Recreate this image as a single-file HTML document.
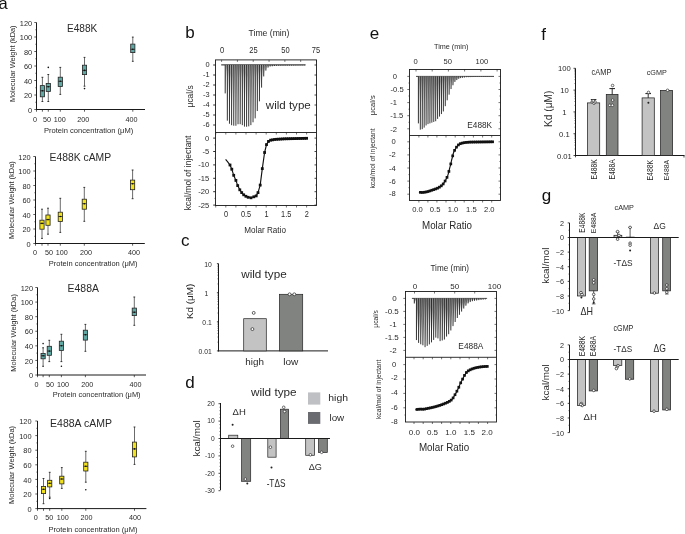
<!DOCTYPE html>
<html><head><meta charset="utf-8"><style>
html,body{margin:0;padding:0;background:#fff;overflow:hidden;}
svg{display:block;font-family:"Liberation Sans",sans-serif;will-change:transform;}
</style></head><body>
<svg width="685" height="534" viewBox="0 0 685 534">
<rect x="0" y="0" width="685" height="534" fill="#fff"/>
<text x="-1.6" y="9" font-size="16.5" text-anchor="start" fill="#111">a</text>
<text x="185.2" y="38" font-size="17" text-anchor="start" fill="#111">b</text>
<text x="181" y="246" font-size="17" text-anchor="start" fill="#111">c</text>
<text x="185.2" y="387.6" font-size="17" text-anchor="start" fill="#111">d</text>
<text x="369.8" y="38.5" font-size="17" text-anchor="start" fill="#111">e</text>
<text x="541.3" y="39.6" font-size="17" text-anchor="start" fill="#111">f</text>
<text x="541.8" y="201.3" font-size="17" text-anchor="start" fill="#111">g</text>
<line x1="36.5" y1="22.5" x2="36.5" y2="110" stroke="#1a1a1a" stroke-width="1.0"/>
<line x1="36" y1="109.5" x2="145" y2="109.5" stroke="#1a1a1a" stroke-width="1.0"/>
<line x1="34.3" y1="109.5" x2="36.5" y2="109.5" stroke="#1a1a1a" stroke-width="0.7"/>
<text x="32.2" y="112.65" font-size="7.4" text-anchor="end" fill="#2a2a2a">0</text>
<line x1="34.3" y1="95" x2="36.5" y2="95" stroke="#1a1a1a" stroke-width="0.7"/>
<text x="32.2" y="98.15" font-size="7.4" text-anchor="end" fill="#2a2a2a">20</text>
<line x1="34.3" y1="80.5" x2="36.5" y2="80.5" stroke="#1a1a1a" stroke-width="0.7"/>
<text x="32.2" y="83.65" font-size="7.4" text-anchor="end" fill="#2a2a2a">40</text>
<line x1="34.3" y1="66" x2="36.5" y2="66" stroke="#1a1a1a" stroke-width="0.7"/>
<text x="32.2" y="69.15" font-size="7.4" text-anchor="end" fill="#2a2a2a">60</text>
<line x1="34.3" y1="51.5" x2="36.5" y2="51.5" stroke="#1a1a1a" stroke-width="0.7"/>
<text x="32.2" y="54.65" font-size="7.4" text-anchor="end" fill="#2a2a2a">80</text>
<line x1="34.3" y1="37" x2="36.5" y2="37" stroke="#1a1a1a" stroke-width="0.7"/>
<text x="32.2" y="40.15" font-size="7.4" text-anchor="end" fill="#2a2a2a">100</text>
<line x1="34.3" y1="22.5" x2="36.5" y2="22.5" stroke="#1a1a1a" stroke-width="0.7"/>
<text x="32.2" y="25.65" font-size="7.4" text-anchor="end" fill="#2a2a2a">120</text>
<line x1="35.2" y1="102.25" x2="36.5" y2="102.25" stroke="#1a1a1a" stroke-width="0.5"/>
<line x1="35.2" y1="87.75" x2="36.5" y2="87.75" stroke="#1a1a1a" stroke-width="0.5"/>
<line x1="35.2" y1="73.25" x2="36.5" y2="73.25" stroke="#1a1a1a" stroke-width="0.5"/>
<line x1="35.2" y1="58.75" x2="36.5" y2="58.75" stroke="#1a1a1a" stroke-width="0.5"/>
<line x1="35.2" y1="44.25" x2="36.5" y2="44.25" stroke="#1a1a1a" stroke-width="0.5"/>
<line x1="35.2" y1="29.75" x2="36.5" y2="29.75" stroke="#1a1a1a" stroke-width="0.5"/>
<line x1="36.5" y1="109.5" x2="36.5" y2="111.7" stroke="#1a1a1a" stroke-width="0.7"/>
<line x1="42.4" y1="109.5" x2="42.4" y2="111.7" stroke="#1a1a1a" stroke-width="0.7"/>
<line x1="48.3" y1="109.5" x2="48.3" y2="111.7" stroke="#1a1a1a" stroke-width="0.7"/>
<line x1="60.3" y1="109.5" x2="60.3" y2="111.7" stroke="#1a1a1a" stroke-width="0.7"/>
<line x1="84.5" y1="109.5" x2="84.5" y2="111.7" stroke="#1a1a1a" stroke-width="0.7"/>
<line x1="132.8" y1="109.5" x2="132.8" y2="111.7" stroke="#1a1a1a" stroke-width="0.7"/>
<text x="35" y="122.08" font-size="7.2" text-anchor="middle" fill="#2a2a2a">0</text>
<text x="46.9" y="122.08" font-size="7.2" text-anchor="middle" fill="#2a2a2a">50</text>
<text x="59.8" y="122.08" font-size="7.2" text-anchor="middle" fill="#2a2a2a">100</text>
<text x="83.2" y="122.08" font-size="7.2" text-anchor="middle" fill="#2a2a2a">200</text>
<text x="131.6" y="122.08" font-size="7.2" text-anchor="middle" fill="#2a2a2a">400</text>
<text x="43.99" y="133.4" font-size="7.83" text-anchor="start" fill="#2a2a2a" textLength="89.29" lengthAdjust="spacingAndGlyphs">Protein concentration (μM)</text>
<text x="15" y="102.09" font-size="7.45" text-anchor="start" fill="#2a2a2a" transform="rotate(-90 15 102.09)" textLength="76.66" lengthAdjust="spacingAndGlyphs">Molecular Weight (kDa)</text>
<text x="66.99" y="31.89" font-size="11.27" text-anchor="start" fill="#2a2a2a" textLength="30.34" lengthAdjust="spacingAndGlyphs">E488K</text>
<line x1="42.4" y1="77.3" x2="42.4" y2="85.6" stroke="#505050" stroke-width="0.85"/>
<line x1="42.4" y1="96.8" x2="42.4" y2="101.5" stroke="#505050" stroke-width="0.85"/>
<line x1="41.5" y1="77.3" x2="43.3" y2="77.3" stroke="#222" stroke-width="0.9"/>
<line x1="41.5" y1="101.5" x2="43.3" y2="101.5" stroke="#222" stroke-width="0.9"/>
<rect x="40.3" y="85.6" width="4.2" height="11.2" fill="#5fa8a3" stroke="#222" stroke-width="0.8"/>
<line x1="40.3" y1="90.8" x2="44.5" y2="90.8" stroke="#222" stroke-width="0.8"/>
<circle cx="42.4" cy="90.8" r="0.8" fill="#111" stroke="none" stroke-width="0"/>
<line x1="48.3" y1="74.5" x2="48.3" y2="83.5" stroke="#505050" stroke-width="0.85"/>
<line x1="48.3" y1="91.4" x2="48.3" y2="101.5" stroke="#505050" stroke-width="0.85"/>
<line x1="47.4" y1="74.5" x2="49.2" y2="74.5" stroke="#222" stroke-width="0.9"/>
<line x1="47.4" y1="101.5" x2="49.2" y2="101.5" stroke="#222" stroke-width="0.9"/>
<rect x="46.2" y="83.5" width="4.2" height="7.9" fill="#5fa8a3" stroke="#222" stroke-width="0.8"/>
<line x1="46.2" y1="86.7" x2="50.4" y2="86.7" stroke="#222" stroke-width="0.8"/>
<circle cx="48.3" cy="86.7" r="0.8" fill="#111" stroke="none" stroke-width="0"/>
<circle cx="48.3" cy="67.4" r="0.8" fill="#111" stroke="none" stroke-width="0"/>
<line x1="60.3" y1="67.4" x2="60.3" y2="77.2" stroke="#505050" stroke-width="0.85"/>
<line x1="60.3" y1="86.5" x2="60.3" y2="94.4" stroke="#505050" stroke-width="0.85"/>
<line x1="59.4" y1="67.4" x2="61.2" y2="67.4" stroke="#222" stroke-width="0.9"/>
<line x1="59.4" y1="94.4" x2="61.2" y2="94.4" stroke="#222" stroke-width="0.9"/>
<rect x="58.2" y="77.2" width="4.2" height="9.3" fill="#5fa8a3" stroke="#222" stroke-width="0.8"/>
<line x1="58.2" y1="81.3" x2="62.4" y2="81.3" stroke="#222" stroke-width="0.8"/>
<circle cx="60.3" cy="81.3" r="0.8" fill="#111" stroke="none" stroke-width="0"/>
<line x1="84.5" y1="57.4" x2="84.5" y2="65.2" stroke="#505050" stroke-width="0.85"/>
<line x1="84.5" y1="74.6" x2="84.5" y2="86.2" stroke="#505050" stroke-width="0.85"/>
<line x1="83.6" y1="57.4" x2="85.4" y2="57.4" stroke="#222" stroke-width="0.9"/>
<line x1="83.6" y1="86.2" x2="85.4" y2="86.2" stroke="#222" stroke-width="0.9"/>
<rect x="82.4" y="65.2" width="4.2" height="9.4" fill="#5fa8a3" stroke="#222" stroke-width="0.8"/>
<line x1="82.4" y1="70.4" x2="86.6" y2="70.4" stroke="#222" stroke-width="0.8"/>
<circle cx="84.5" cy="70.4" r="0.8" fill="#111" stroke="none" stroke-width="0"/>
<circle cx="84.5" cy="88.6" r="0.8" fill="#111" stroke="none" stroke-width="0"/>
<line x1="132.8" y1="37.1" x2="132.8" y2="44.1" stroke="#505050" stroke-width="0.85"/>
<line x1="132.8" y1="52.6" x2="132.8" y2="61.3" stroke="#505050" stroke-width="0.85"/>
<line x1="131.9" y1="37.1" x2="133.7" y2="37.1" stroke="#222" stroke-width="0.9"/>
<line x1="131.9" y1="61.3" x2="133.7" y2="61.3" stroke="#222" stroke-width="0.9"/>
<rect x="130.7" y="44.1" width="4.2" height="8.5" fill="#5fa8a3" stroke="#222" stroke-width="0.8"/>
<line x1="130.7" y1="49.3" x2="134.9" y2="49.3" stroke="#222" stroke-width="0.8"/>
<circle cx="132.8" cy="49.3" r="0.8" fill="#111" stroke="none" stroke-width="0"/>
<line x1="35.5" y1="156.5" x2="35.5" y2="244" stroke="#1a1a1a" stroke-width="1.0"/>
<line x1="35" y1="243.5" x2="144.8" y2="243.5" stroke="#1a1a1a" stroke-width="1.0"/>
<line x1="33.3" y1="243.5" x2="35.5" y2="243.5" stroke="#1a1a1a" stroke-width="0.7"/>
<text x="30.7" y="246.65" font-size="7.4" text-anchor="end" fill="#2a2a2a">0</text>
<line x1="33.3" y1="229" x2="35.5" y2="229" stroke="#1a1a1a" stroke-width="0.7"/>
<text x="30.7" y="232.15" font-size="7.4" text-anchor="end" fill="#2a2a2a">20</text>
<line x1="33.3" y1="214.5" x2="35.5" y2="214.5" stroke="#1a1a1a" stroke-width="0.7"/>
<text x="30.7" y="217.65" font-size="7.4" text-anchor="end" fill="#2a2a2a">40</text>
<line x1="33.3" y1="200" x2="35.5" y2="200" stroke="#1a1a1a" stroke-width="0.7"/>
<text x="30.7" y="203.15" font-size="7.4" text-anchor="end" fill="#2a2a2a">60</text>
<line x1="33.3" y1="185.5" x2="35.5" y2="185.5" stroke="#1a1a1a" stroke-width="0.7"/>
<text x="30.7" y="188.65" font-size="7.4" text-anchor="end" fill="#2a2a2a">80</text>
<line x1="33.3" y1="171" x2="35.5" y2="171" stroke="#1a1a1a" stroke-width="0.7"/>
<text x="30.7" y="174.15" font-size="7.4" text-anchor="end" fill="#2a2a2a">100</text>
<line x1="33.3" y1="156.5" x2="35.5" y2="156.5" stroke="#1a1a1a" stroke-width="0.7"/>
<text x="30.7" y="159.65" font-size="7.4" text-anchor="end" fill="#2a2a2a">120</text>
<line x1="34.2" y1="236.25" x2="35.5" y2="236.25" stroke="#1a1a1a" stroke-width="0.5"/>
<line x1="34.2" y1="221.75" x2="35.5" y2="221.75" stroke="#1a1a1a" stroke-width="0.5"/>
<line x1="34.2" y1="207.25" x2="35.5" y2="207.25" stroke="#1a1a1a" stroke-width="0.5"/>
<line x1="34.2" y1="192.75" x2="35.5" y2="192.75" stroke="#1a1a1a" stroke-width="0.5"/>
<line x1="34.2" y1="178.25" x2="35.5" y2="178.25" stroke="#1a1a1a" stroke-width="0.5"/>
<line x1="34.2" y1="163.75" x2="35.5" y2="163.75" stroke="#1a1a1a" stroke-width="0.5"/>
<line x1="35.5" y1="243.5" x2="35.5" y2="245.7" stroke="#1a1a1a" stroke-width="0.7"/>
<line x1="42" y1="243.5" x2="42" y2="245.7" stroke="#1a1a1a" stroke-width="0.7"/>
<line x1="48" y1="243.5" x2="48" y2="245.7" stroke="#1a1a1a" stroke-width="0.7"/>
<line x1="60.3" y1="243.5" x2="60.3" y2="245.7" stroke="#1a1a1a" stroke-width="0.7"/>
<line x1="84.3" y1="243.5" x2="84.3" y2="245.7" stroke="#1a1a1a" stroke-width="0.7"/>
<line x1="132.6" y1="243.5" x2="132.6" y2="245.7" stroke="#1a1a1a" stroke-width="0.7"/>
<text x="35" y="254.78" font-size="7.2" text-anchor="middle" fill="#2a2a2a">0</text>
<text x="49" y="254.78" font-size="7.2" text-anchor="middle" fill="#2a2a2a">50</text>
<text x="61.7" y="254.78" font-size="7.2" text-anchor="middle" fill="#2a2a2a">100</text>
<text x="86" y="254.78" font-size="7.2" text-anchor="middle" fill="#2a2a2a">200</text>
<text x="134" y="254.78" font-size="7.2" text-anchor="middle" fill="#2a2a2a">400</text>
<text x="48.8" y="265.6" font-size="7.83" text-anchor="start" fill="#2a2a2a" textLength="88.68" lengthAdjust="spacingAndGlyphs">Protein concentration (μM)</text>
<text x="14.05" y="238.9" font-size="7.45" text-anchor="start" fill="#2a2a2a" transform="rotate(-90 14.05 238.9)" textLength="77.68" lengthAdjust="spacingAndGlyphs">Molecular Weight (kDa)</text>
<text x="49.47" y="160.68" font-size="11.55" text-anchor="start" fill="#2a2a2a" textLength="61.67" lengthAdjust="spacingAndGlyphs">E488K cAMP</text>
<line x1="42" y1="209.2" x2="42" y2="220.2" stroke="#505050" stroke-width="0.85"/>
<line x1="42" y1="229.2" x2="42" y2="238.4" stroke="#505050" stroke-width="0.85"/>
<line x1="41.1" y1="209.2" x2="42.9" y2="209.2" stroke="#222" stroke-width="0.9"/>
<line x1="41.1" y1="238.4" x2="42.9" y2="238.4" stroke="#222" stroke-width="0.9"/>
<rect x="39.9" y="220.2" width="4.2" height="9" fill="#f2e21c" stroke="#222" stroke-width="0.8"/>
<line x1="39.9" y1="223.4" x2="44.1" y2="223.4" stroke="#222" stroke-width="0.8"/>
<circle cx="42" cy="223.4" r="0.8" fill="#111" stroke="none" stroke-width="0"/>
<line x1="48" y1="208.2" x2="48" y2="215" stroke="#505050" stroke-width="0.85"/>
<line x1="48" y1="225.3" x2="48" y2="234.2" stroke="#505050" stroke-width="0.85"/>
<line x1="47.1" y1="208.2" x2="48.9" y2="208.2" stroke="#222" stroke-width="0.9"/>
<line x1="47.1" y1="234.2" x2="48.9" y2="234.2" stroke="#222" stroke-width="0.9"/>
<rect x="45.9" y="215" width="4.2" height="10.3" fill="#f2e21c" stroke="#222" stroke-width="0.8"/>
<line x1="45.9" y1="219.6" x2="50.1" y2="219.6" stroke="#222" stroke-width="0.8"/>
<circle cx="48" cy="219.6" r="0.8" fill="#111" stroke="none" stroke-width="0"/>
<line x1="60.3" y1="198.3" x2="60.3" y2="212.2" stroke="#505050" stroke-width="0.85"/>
<line x1="60.3" y1="221.5" x2="60.3" y2="232.4" stroke="#505050" stroke-width="0.85"/>
<line x1="59.4" y1="198.3" x2="61.2" y2="198.3" stroke="#222" stroke-width="0.9"/>
<line x1="59.4" y1="232.4" x2="61.2" y2="232.4" stroke="#222" stroke-width="0.9"/>
<rect x="58.2" y="212.2" width="4.2" height="9.3" fill="#f2e21c" stroke="#222" stroke-width="0.8"/>
<line x1="58.2" y1="216.5" x2="62.4" y2="216.5" stroke="#222" stroke-width="0.8"/>
<circle cx="60.3" cy="216.5" r="0.8" fill="#111" stroke="none" stroke-width="0"/>
<line x1="84.3" y1="187.4" x2="84.3" y2="199.2" stroke="#505050" stroke-width="0.85"/>
<line x1="84.3" y1="209.2" x2="84.3" y2="221.3" stroke="#505050" stroke-width="0.85"/>
<line x1="83.4" y1="187.4" x2="85.2" y2="187.4" stroke="#222" stroke-width="0.9"/>
<line x1="83.4" y1="221.3" x2="85.2" y2="221.3" stroke="#222" stroke-width="0.9"/>
<rect x="82.2" y="199.2" width="4.2" height="10" fill="#f2e21c" stroke="#222" stroke-width="0.8"/>
<line x1="82.2" y1="203.7" x2="86.4" y2="203.7" stroke="#222" stroke-width="0.8"/>
<circle cx="84.3" cy="203.7" r="0.8" fill="#111" stroke="none" stroke-width="0"/>
<line x1="132.6" y1="170" x2="132.6" y2="180.1" stroke="#505050" stroke-width="0.85"/>
<line x1="132.6" y1="189.7" x2="132.6" y2="198.7" stroke="#505050" stroke-width="0.85"/>
<line x1="131.7" y1="170" x2="133.5" y2="170" stroke="#222" stroke-width="0.9"/>
<line x1="131.7" y1="198.7" x2="133.5" y2="198.7" stroke="#222" stroke-width="0.9"/>
<rect x="130.5" y="180.1" width="4.2" height="9.6" fill="#f2e21c" stroke="#222" stroke-width="0.8"/>
<line x1="130.5" y1="183.7" x2="134.7" y2="183.7" stroke="#222" stroke-width="0.8"/>
<circle cx="132.6" cy="183.7" r="0.8" fill="#111" stroke="none" stroke-width="0"/>
<line x1="37.5" y1="287.5" x2="37.5" y2="375.5" stroke="#1a1a1a" stroke-width="1.0"/>
<line x1="37" y1="375" x2="146" y2="375" stroke="#1a1a1a" stroke-width="1.0"/>
<line x1="35.3" y1="375" x2="37.5" y2="375" stroke="#1a1a1a" stroke-width="0.7"/>
<text x="33" y="378.15" font-size="7.4" text-anchor="end" fill="#2a2a2a">0</text>
<line x1="35.3" y1="360.42" x2="37.5" y2="360.42" stroke="#1a1a1a" stroke-width="0.7"/>
<text x="33" y="363.57" font-size="7.4" text-anchor="end" fill="#2a2a2a">20</text>
<line x1="35.3" y1="345.83" x2="37.5" y2="345.83" stroke="#1a1a1a" stroke-width="0.7"/>
<text x="33" y="348.98" font-size="7.4" text-anchor="end" fill="#2a2a2a">40</text>
<line x1="35.3" y1="331.25" x2="37.5" y2="331.25" stroke="#1a1a1a" stroke-width="0.7"/>
<text x="33" y="334.4" font-size="7.4" text-anchor="end" fill="#2a2a2a">60</text>
<line x1="35.3" y1="316.67" x2="37.5" y2="316.67" stroke="#1a1a1a" stroke-width="0.7"/>
<text x="33" y="319.82" font-size="7.4" text-anchor="end" fill="#2a2a2a">80</text>
<line x1="35.3" y1="302.08" x2="37.5" y2="302.08" stroke="#1a1a1a" stroke-width="0.7"/>
<text x="33" y="305.23" font-size="7.4" text-anchor="end" fill="#2a2a2a">100</text>
<line x1="35.3" y1="287.5" x2="37.5" y2="287.5" stroke="#1a1a1a" stroke-width="0.7"/>
<text x="33" y="290.65" font-size="7.4" text-anchor="end" fill="#2a2a2a">120</text>
<line x1="36.2" y1="367.71" x2="37.5" y2="367.71" stroke="#1a1a1a" stroke-width="0.5"/>
<line x1="36.2" y1="353.12" x2="37.5" y2="353.12" stroke="#1a1a1a" stroke-width="0.5"/>
<line x1="36.2" y1="338.54" x2="37.5" y2="338.54" stroke="#1a1a1a" stroke-width="0.5"/>
<line x1="36.2" y1="323.96" x2="37.5" y2="323.96" stroke="#1a1a1a" stroke-width="0.5"/>
<line x1="36.2" y1="309.38" x2="37.5" y2="309.38" stroke="#1a1a1a" stroke-width="0.5"/>
<line x1="36.2" y1="294.79" x2="37.5" y2="294.79" stroke="#1a1a1a" stroke-width="0.5"/>
<line x1="37.5" y1="375" x2="37.5" y2="377.2" stroke="#1a1a1a" stroke-width="0.7"/>
<line x1="43.1" y1="375" x2="43.1" y2="377.2" stroke="#1a1a1a" stroke-width="0.7"/>
<line x1="49.3" y1="375" x2="49.3" y2="377.2" stroke="#1a1a1a" stroke-width="0.7"/>
<line x1="61.4" y1="375" x2="61.4" y2="377.2" stroke="#1a1a1a" stroke-width="0.7"/>
<line x1="85.4" y1="375" x2="85.4" y2="377.2" stroke="#1a1a1a" stroke-width="0.7"/>
<line x1="134.3" y1="375" x2="134.3" y2="377.2" stroke="#1a1a1a" stroke-width="0.7"/>
<text x="36.5" y="386.88" font-size="7.2" text-anchor="middle" fill="#2a2a2a">0</text>
<text x="49.9" y="386.88" font-size="7.2" text-anchor="middle" fill="#2a2a2a">50</text>
<text x="63" y="386.88" font-size="7.2" text-anchor="middle" fill="#2a2a2a">100</text>
<text x="87.2" y="386.88" font-size="7.2" text-anchor="middle" fill="#2a2a2a">200</text>
<text x="135.6" y="386.88" font-size="7.2" text-anchor="middle" fill="#2a2a2a">400</text>
<text x="52.81" y="396.8" font-size="7.83" text-anchor="start" fill="#2a2a2a" textLength="87.77" lengthAdjust="spacingAndGlyphs">Protein concentration (μM)</text>
<text x="15.7" y="371.7" font-size="7.45" text-anchor="start" fill="#2a2a2a" transform="rotate(-90 15.7 371.7)" textLength="77.58" lengthAdjust="spacingAndGlyphs">Molecular Weight (kDa)</text>
<text x="67.56" y="291.88" font-size="11.83" text-anchor="start" fill="#2a2a2a" textLength="31.36" lengthAdjust="spacingAndGlyphs">E488A</text>
<line x1="43.1" y1="347.8" x2="43.1" y2="353.4" stroke="#505050" stroke-width="0.85"/>
<line x1="43.1" y1="358.8" x2="43.1" y2="366.3" stroke="#505050" stroke-width="0.85"/>
<line x1="42.2" y1="347.8" x2="44" y2="347.8" stroke="#222" stroke-width="0.9"/>
<line x1="42.2" y1="366.3" x2="44" y2="366.3" stroke="#222" stroke-width="0.9"/>
<rect x="41" y="353.4" width="4.2" height="5.4" fill="#5fa8a3" stroke="#222" stroke-width="0.8"/>
<line x1="41" y1="355.8" x2="45.2" y2="355.8" stroke="#222" stroke-width="0.8"/>
<circle cx="43.1" cy="355.8" r="0.8" fill="#111" stroke="none" stroke-width="0"/>
<circle cx="43.1" cy="343.6" r="0.8" fill="#111" stroke="none" stroke-width="0"/>
<line x1="49.3" y1="340.3" x2="49.3" y2="346.3" stroke="#505050" stroke-width="0.85"/>
<line x1="49.3" y1="355.3" x2="49.3" y2="361.6" stroke="#505050" stroke-width="0.85"/>
<line x1="48.4" y1="340.3" x2="50.2" y2="340.3" stroke="#222" stroke-width="0.9"/>
<line x1="48.4" y1="361.6" x2="50.2" y2="361.6" stroke="#222" stroke-width="0.9"/>
<rect x="47.2" y="346.3" width="4.2" height="9" fill="#5fa8a3" stroke="#222" stroke-width="0.8"/>
<line x1="47.2" y1="351.1" x2="51.4" y2="351.1" stroke="#222" stroke-width="0.8"/>
<circle cx="49.3" cy="351.1" r="0.8" fill="#111" stroke="none" stroke-width="0"/>
<line x1="61.4" y1="334.3" x2="61.4" y2="341.2" stroke="#505050" stroke-width="0.85"/>
<line x1="61.4" y1="350.4" x2="61.4" y2="361.6" stroke="#505050" stroke-width="0.85"/>
<line x1="60.5" y1="334.3" x2="62.3" y2="334.3" stroke="#222" stroke-width="0.9"/>
<line x1="60.5" y1="361.6" x2="62.3" y2="361.6" stroke="#222" stroke-width="0.9"/>
<rect x="59.3" y="341.2" width="4.2" height="9.2" fill="#5fa8a3" stroke="#222" stroke-width="0.8"/>
<line x1="59.3" y1="345.7" x2="63.5" y2="345.7" stroke="#222" stroke-width="0.8"/>
<circle cx="61.4" cy="345.7" r="0.8" fill="#111" stroke="none" stroke-width="0"/>
<circle cx="61.4" cy="366.3" r="0.8" fill="#111" stroke="none" stroke-width="0"/>
<line x1="85.4" y1="324.4" x2="85.4" y2="330.2" stroke="#505050" stroke-width="0.85"/>
<line x1="85.4" y1="340.1" x2="85.4" y2="351.3" stroke="#505050" stroke-width="0.85"/>
<line x1="84.5" y1="324.4" x2="86.3" y2="324.4" stroke="#222" stroke-width="0.9"/>
<line x1="84.5" y1="351.3" x2="86.3" y2="351.3" stroke="#222" stroke-width="0.9"/>
<rect x="83.3" y="330.2" width="4.2" height="9.9" fill="#5fa8a3" stroke="#222" stroke-width="0.8"/>
<line x1="83.3" y1="334.7" x2="87.5" y2="334.7" stroke="#222" stroke-width="0.8"/>
<circle cx="85.4" cy="334.7" r="0.8" fill="#111" stroke="none" stroke-width="0"/>
<line x1="134.3" y1="297" x2="134.3" y2="308.1" stroke="#505050" stroke-width="0.85"/>
<line x1="134.3" y1="315.6" x2="134.3" y2="325.3" stroke="#505050" stroke-width="0.85"/>
<line x1="133.4" y1="297" x2="135.2" y2="297" stroke="#222" stroke-width="0.9"/>
<line x1="133.4" y1="325.3" x2="135.2" y2="325.3" stroke="#222" stroke-width="0.9"/>
<rect x="132.2" y="308.1" width="4.2" height="7.5" fill="#5fa8a3" stroke="#222" stroke-width="0.8"/>
<line x1="132.2" y1="312.2" x2="136.4" y2="312.2" stroke="#222" stroke-width="0.8"/>
<circle cx="134.3" cy="312.2" r="0.8" fill="#111" stroke="none" stroke-width="0"/>
<line x1="37.5" y1="421" x2="37.5" y2="509.1" stroke="#1a1a1a" stroke-width="1.0"/>
<line x1="37" y1="508.6" x2="146.4" y2="508.6" stroke="#1a1a1a" stroke-width="1.0"/>
<line x1="35.3" y1="508.6" x2="37.5" y2="508.6" stroke="#1a1a1a" stroke-width="0.7"/>
<text x="31.5" y="511.75" font-size="7.4" text-anchor="end" fill="#2a2a2a">0</text>
<line x1="35.3" y1="494" x2="37.5" y2="494" stroke="#1a1a1a" stroke-width="0.7"/>
<text x="31.5" y="497.15" font-size="7.4" text-anchor="end" fill="#2a2a2a">20</text>
<line x1="35.3" y1="479.4" x2="37.5" y2="479.4" stroke="#1a1a1a" stroke-width="0.7"/>
<text x="31.5" y="482.55" font-size="7.4" text-anchor="end" fill="#2a2a2a">40</text>
<line x1="35.3" y1="464.8" x2="37.5" y2="464.8" stroke="#1a1a1a" stroke-width="0.7"/>
<text x="31.5" y="467.95" font-size="7.4" text-anchor="end" fill="#2a2a2a">60</text>
<line x1="35.3" y1="450.2" x2="37.5" y2="450.2" stroke="#1a1a1a" stroke-width="0.7"/>
<text x="31.5" y="453.35" font-size="7.4" text-anchor="end" fill="#2a2a2a">80</text>
<line x1="35.3" y1="435.6" x2="37.5" y2="435.6" stroke="#1a1a1a" stroke-width="0.7"/>
<text x="31.5" y="438.75" font-size="7.4" text-anchor="end" fill="#2a2a2a">100</text>
<line x1="35.3" y1="421" x2="37.5" y2="421" stroke="#1a1a1a" stroke-width="0.7"/>
<text x="31.5" y="424.15" font-size="7.4" text-anchor="end" fill="#2a2a2a">120</text>
<line x1="36.2" y1="501.3" x2="37.5" y2="501.3" stroke="#1a1a1a" stroke-width="0.5"/>
<line x1="36.2" y1="486.7" x2="37.5" y2="486.7" stroke="#1a1a1a" stroke-width="0.5"/>
<line x1="36.2" y1="472.1" x2="37.5" y2="472.1" stroke="#1a1a1a" stroke-width="0.5"/>
<line x1="36.2" y1="457.5" x2="37.5" y2="457.5" stroke="#1a1a1a" stroke-width="0.5"/>
<line x1="36.2" y1="442.9" x2="37.5" y2="442.9" stroke="#1a1a1a" stroke-width="0.5"/>
<line x1="36.2" y1="428.3" x2="37.5" y2="428.3" stroke="#1a1a1a" stroke-width="0.5"/>
<line x1="37.5" y1="508.6" x2="37.5" y2="510.8" stroke="#1a1a1a" stroke-width="0.7"/>
<line x1="43.5" y1="508.6" x2="43.5" y2="510.8" stroke="#1a1a1a" stroke-width="0.7"/>
<line x1="49.7" y1="508.6" x2="49.7" y2="510.8" stroke="#1a1a1a" stroke-width="0.7"/>
<line x1="61.8" y1="508.6" x2="61.8" y2="510.8" stroke="#1a1a1a" stroke-width="0.7"/>
<line x1="85.8" y1="508.6" x2="85.8" y2="510.8" stroke="#1a1a1a" stroke-width="0.7"/>
<line x1="134.5" y1="508.6" x2="134.5" y2="510.8" stroke="#1a1a1a" stroke-width="0.7"/>
<text x="35.7" y="519.78" font-size="7.2" text-anchor="middle" fill="#2a2a2a">0</text>
<text x="49.3" y="519.78" font-size="7.2" text-anchor="middle" fill="#2a2a2a">50</text>
<text x="62.8" y="519.78" font-size="7.2" text-anchor="middle" fill="#2a2a2a">100</text>
<text x="86.4" y="519.78" font-size="7.2" text-anchor="middle" fill="#2a2a2a">200</text>
<text x="135.1" y="519.78" font-size="7.2" text-anchor="middle" fill="#2a2a2a">400</text>
<text x="48.4" y="532.3" font-size="7.83" text-anchor="start" fill="#2a2a2a" textLength="89.08" lengthAdjust="spacingAndGlyphs">Protein concentration (μM)</text>
<text x="14.45" y="503.9" font-size="7.45" text-anchor="start" fill="#2a2a2a" transform="rotate(-90 14.45 503.9)" textLength="77.98" lengthAdjust="spacingAndGlyphs">Molecular Weight (kDa)</text>
<text x="50.06" y="426.68" font-size="11.55" text-anchor="start" fill="#2a2a2a" textLength="61.89" lengthAdjust="spacingAndGlyphs">E488A cAMP</text>
<line x1="43.5" y1="478.5" x2="43.5" y2="486.5" stroke="#505050" stroke-width="0.85"/>
<line x1="43.5" y1="493.6" x2="43.5" y2="503.7" stroke="#505050" stroke-width="0.85"/>
<line x1="42.6" y1="478.5" x2="44.4" y2="478.5" stroke="#222" stroke-width="0.9"/>
<line x1="42.6" y1="503.7" x2="44.4" y2="503.7" stroke="#222" stroke-width="0.9"/>
<rect x="41.4" y="486.5" width="4.2" height="7.1" fill="#f2e21c" stroke="#222" stroke-width="0.8"/>
<line x1="41.4" y1="489.3" x2="45.6" y2="489.3" stroke="#222" stroke-width="0.8"/>
<circle cx="43.5" cy="489.3" r="0.8" fill="#111" stroke="none" stroke-width="0"/>
<line x1="49.7" y1="472.3" x2="49.7" y2="480.3" stroke="#505050" stroke-width="0.85"/>
<line x1="49.7" y1="486.9" x2="49.7" y2="497.2" stroke="#505050" stroke-width="0.85"/>
<line x1="48.8" y1="472.3" x2="50.6" y2="472.3" stroke="#222" stroke-width="0.9"/>
<line x1="48.8" y1="497.2" x2="50.6" y2="497.2" stroke="#222" stroke-width="0.9"/>
<rect x="47.6" y="480.3" width="4.2" height="6.6" fill="#f2e21c" stroke="#222" stroke-width="0.8"/>
<line x1="47.6" y1="483.3" x2="51.8" y2="483.3" stroke="#222" stroke-width="0.8"/>
<circle cx="49.7" cy="483.3" r="0.8" fill="#111" stroke="none" stroke-width="0"/>
<circle cx="49.7" cy="498.4" r="0.8" fill="#111" stroke="none" stroke-width="0"/>
<line x1="61.8" y1="467.6" x2="61.8" y2="476.2" stroke="#505050" stroke-width="0.85"/>
<line x1="61.8" y1="483.9" x2="61.8" y2="488.4" stroke="#505050" stroke-width="0.85"/>
<line x1="60.9" y1="467.6" x2="62.7" y2="467.6" stroke="#222" stroke-width="0.9"/>
<line x1="60.9" y1="488.4" x2="62.7" y2="488.4" stroke="#222" stroke-width="0.9"/>
<rect x="59.7" y="476.2" width="4.2" height="7.7" fill="#f2e21c" stroke="#222" stroke-width="0.8"/>
<line x1="59.7" y1="479" x2="63.9" y2="479" stroke="#222" stroke-width="0.8"/>
<circle cx="61.8" cy="479" r="0.8" fill="#111" stroke="none" stroke-width="0"/>
<line x1="85.8" y1="451.3" x2="85.8" y2="462.2" stroke="#505050" stroke-width="0.85"/>
<line x1="85.8" y1="471" x2="85.8" y2="482.2" stroke="#505050" stroke-width="0.85"/>
<line x1="84.9" y1="451.3" x2="86.7" y2="451.3" stroke="#222" stroke-width="0.9"/>
<line x1="84.9" y1="482.2" x2="86.7" y2="482.2" stroke="#222" stroke-width="0.9"/>
<rect x="83.7" y="462.2" width="4.2" height="8.8" fill="#f2e21c" stroke="#222" stroke-width="0.8"/>
<line x1="83.7" y1="466.3" x2="87.9" y2="466.3" stroke="#222" stroke-width="0.8"/>
<circle cx="85.8" cy="466.3" r="0.8" fill="#111" stroke="none" stroke-width="0"/>
<circle cx="85.8" cy="489.7" r="0.8" fill="#111" stroke="none" stroke-width="0"/>
<line x1="134.5" y1="427" x2="134.5" y2="442.1" stroke="#505050" stroke-width="0.85"/>
<line x1="134.5" y1="456.9" x2="134.5" y2="464.4" stroke="#505050" stroke-width="0.85"/>
<line x1="133.6" y1="427" x2="135.4" y2="427" stroke="#222" stroke-width="0.9"/>
<line x1="133.6" y1="464.4" x2="135.4" y2="464.4" stroke="#222" stroke-width="0.9"/>
<rect x="132.4" y="442.1" width="4.2" height="14.8" fill="#f2e21c" stroke="#222" stroke-width="0.8"/>
<line x1="132.4" y1="448.9" x2="136.6" y2="448.9" stroke="#222" stroke-width="0.8"/>
<circle cx="134.5" cy="448.9" r="0.8" fill="#111" stroke="none" stroke-width="0"/>
<rect x="215.5" y="59.9" width="101" height="145.6" fill="none" stroke="#1a1a1a" stroke-width="0.9"/>
<line x1="215.5" y1="132.5" x2="316.5" y2="132.5" stroke="#1a1a1a" stroke-width="0.9"/>
<line x1="221.6" y1="59.9" x2="221.6" y2="61.9" stroke="#1a1a1a" stroke-width="0.6"/>
<line x1="237.42" y1="59.9" x2="237.42" y2="61.9" stroke="#1a1a1a" stroke-width="0.6"/>
<line x1="253.23" y1="59.9" x2="253.23" y2="61.9" stroke="#1a1a1a" stroke-width="0.6"/>
<line x1="269.05" y1="59.9" x2="269.05" y2="61.9" stroke="#1a1a1a" stroke-width="0.6"/>
<line x1="284.87" y1="59.9" x2="284.87" y2="61.9" stroke="#1a1a1a" stroke-width="0.6"/>
<line x1="300.68" y1="59.9" x2="300.68" y2="61.9" stroke="#1a1a1a" stroke-width="0.6"/>
<line x1="316.5" y1="59.9" x2="316.5" y2="61.9" stroke="#1a1a1a" stroke-width="0.6"/>
<text x="222" y="53.34" font-size="8.2" text-anchor="middle" fill="#2a2a2a" textLength="4.2" lengthAdjust="spacingAndGlyphs">0</text>
<text x="253.5" y="53.34" font-size="8.2" text-anchor="middle" fill="#2a2a2a" textLength="8.39" lengthAdjust="spacingAndGlyphs">25</text>
<text x="285.5" y="53.34" font-size="8.2" text-anchor="middle" fill="#2a2a2a" textLength="8.39" lengthAdjust="spacingAndGlyphs">50</text>
<text x="315.9" y="53.34" font-size="8.2" text-anchor="middle" fill="#2a2a2a" textLength="8.39" lengthAdjust="spacingAndGlyphs">75</text>
<text x="248.53" y="35.9" font-size="8.84" text-anchor="start" fill="#2a2a2a" textLength="40.94" lengthAdjust="spacingAndGlyphs">Time (min)</text>
<line x1="213.2" y1="65" x2="215.5" y2="65" stroke="#1a1a1a" stroke-width="0.9"/>
<line x1="314.5" y1="65" x2="316.5" y2="65" stroke="#1a1a1a" stroke-width="0.8"/>
<text x="209.6" y="67.05" font-size="7.4" text-anchor="end" fill="#2a2a2a">0</text>
<line x1="213.2" y1="75" x2="215.5" y2="75" stroke="#1a1a1a" stroke-width="0.9"/>
<line x1="314.5" y1="75" x2="316.5" y2="75" stroke="#1a1a1a" stroke-width="0.8"/>
<text x="209.6" y="77.05" font-size="7.4" text-anchor="end" fill="#2a2a2a">-1</text>
<line x1="213.2" y1="85" x2="215.5" y2="85" stroke="#1a1a1a" stroke-width="0.9"/>
<line x1="314.5" y1="85" x2="316.5" y2="85" stroke="#1a1a1a" stroke-width="0.8"/>
<text x="209.6" y="87.05" font-size="7.4" text-anchor="end" fill="#2a2a2a">-2</text>
<line x1="213.2" y1="95" x2="215.5" y2="95" stroke="#1a1a1a" stroke-width="0.9"/>
<line x1="314.5" y1="95" x2="316.5" y2="95" stroke="#1a1a1a" stroke-width="0.8"/>
<text x="209.6" y="97.05" font-size="7.4" text-anchor="end" fill="#2a2a2a">-3</text>
<line x1="213.2" y1="105" x2="215.5" y2="105" stroke="#1a1a1a" stroke-width="0.9"/>
<line x1="314.5" y1="105" x2="316.5" y2="105" stroke="#1a1a1a" stroke-width="0.8"/>
<text x="209.6" y="107.05" font-size="7.4" text-anchor="end" fill="#2a2a2a">-4</text>
<line x1="213.2" y1="115" x2="215.5" y2="115" stroke="#1a1a1a" stroke-width="0.9"/>
<line x1="314.5" y1="115" x2="316.5" y2="115" stroke="#1a1a1a" stroke-width="0.8"/>
<text x="209.6" y="117.05" font-size="7.4" text-anchor="end" fill="#2a2a2a">-5</text>
<line x1="213.2" y1="125" x2="215.5" y2="125" stroke="#1a1a1a" stroke-width="0.9"/>
<line x1="314.5" y1="125" x2="316.5" y2="125" stroke="#1a1a1a" stroke-width="0.8"/>
<text x="209.6" y="127.05" font-size="7.4" text-anchor="end" fill="#2a2a2a">-6</text>
<text x="192.74" y="107.45" font-size="8.2" text-anchor="start" fill="#2a2a2a" transform="rotate(-90 192.74 107.45)" textLength="22.16" lengthAdjust="spacingAndGlyphs">μcal/s</text>
<line x1="221.2" y1="64.9" x2="305.6" y2="64.9" stroke="#1a1a1a" stroke-width="1.0"/>
<path d="M225.2,64.9 L225.2,93.4 L225.8,80.58 L226.4,71.17 L227.23,64.9 Z M227.34,64.9 L227.34,120.66 L227.94,95.57 L228.54,77.17 L229.37,64.9 Z M229.48,64.9 L229.48,123.73 L230.08,97.26 L230.68,77.84 L231.51,64.9 Z M231.62,64.9 L231.62,125.23 L232.22,98.08 L232.82,78.17 L233.65,64.9 Z M233.76,64.9 L233.76,125.71 L234.36,98.35 L234.96,78.28 L235.79,64.9 Z M235.9,64.9 L235.9,125.73 L236.5,98.36 L237.1,78.28 L237.93,64.9 Z M238.04,64.9 L238.04,124.24 L238.64,97.54 L239.24,77.96 L240.07,64.9 Z M240.18,64.9 L240.18,124.2 L240.78,97.52 L241.38,77.95 L242.21,64.9 Z M242.32,64.9 L242.32,125.16 L242.92,98.04 L243.52,78.16 L244.35,64.9 Z M244.46,64.9 L244.46,126.62 L245.06,98.84 L245.66,78.48 L246.49,64.9 Z M246.6,64.9 L246.6,126.76 L247.2,98.92 L247.8,78.51 L248.63,64.9 Z M248.74,64.9 L248.74,126.35 L249.34,98.7 L249.94,78.42 L250.77,64.9 Z M250.88,64.9 L250.88,125.13 L251.48,98.03 L252.08,78.15 L252.91,64.9 Z M253.02,64.9 L253.02,122.29 L253.62,96.46 L254.22,77.53 L255.05,64.9 Z M255.16,64.9 L255.16,118.39 L255.76,94.32 L256.36,76.67 L257.19,64.9 Z M257.3,64.9 L257.3,111.04 L257.9,90.28 L258.5,75.05 L259.33,64.9 Z M259.44,64.9 L259.44,101.34 L260.04,84.94 L260.64,72.92 L261.47,64.9 Z M261.58,64.9 L261.58,87.63 L262.18,77.4 L262.78,69.9 L263.61,64.9 Z M263.72,64.9 L263.72,76.45 L264.32,71.25 L264.92,67.44 L265.75,64.9 Z M265.86,64.9 L265.86,70.61 L266.46,68.04 L267.06,66.16 L267.89,64.9 Z M268,64.9 L268,67.6 L268.6,66.39 L269.2,65.49 L270.03,64.9 Z M270.14,64.9 L270.14,66.53 L270.74,65.8 L271.34,65.26 L272.17,64.9 Z M272.28,64.9 L272.28,66.25 L272.88,65.64 L273.48,65.2 L274.31,64.9 Z M274.42,64.9 L274.42,65.99 L275.02,65.5 L275.62,65.14 L276.45,64.9 Z M276.56,64.9 L276.56,65.79 L277.16,65.39 L277.76,65.1 L278.59,64.9 Z M278.7,64.9 L278.7,65.75 L279.3,65.37 L279.9,65.09 L280.73,64.9 Z M280.84,64.9 L280.84,65.72 L281.44,65.35 L282.04,65.08 L282.87,64.9 Z M282.98,64.9 L282.98,65.68 L283.58,65.33 L284.18,65.07 L285.01,64.9 Z M285.12,64.9 L285.12,65.64 L285.72,65.31 L286.32,65.06 L287.15,64.9 Z M287.26,64.9 L287.26,65.61 L287.86,65.29 L288.46,65.06 L289.29,64.9 Z M289.4,64.9 L289.4,65.57 L290,65.27 L290.6,65.05 L291.43,64.9 Z M291.54,64.9 L291.54,65.53 L292.14,65.25 L292.74,65.04 L293.57,64.9 Z M293.68,64.9 L293.68,65.5 L294.28,65.23 L294.88,65.03 L295.71,64.9 Z M295.82,64.9 L295.82,65.46 L296.42,65.21 L297.02,65.02 L297.85,64.9 Z M297.96,64.9 L297.96,65.42 L298.56,65.19 L299.16,65.01 L299.99,64.9 Z M300.1,64.9 L300.1,65.38 L300.7,65.17 L301.3,65.01 L302.13,64.9 Z M302.24,64.9 L302.24,65.35 L302.84,65.15 L303.44,65 L304.27,64.9 Z M304.38,64.9 L304.38,65.31 L304.98,65.13 L305.58,64.99 L306.41,64.9 Z" fill="#a0a0a0" stroke="none"/>
<path d="M225.2,64.9 L225.2,93.4 M227.34,64.9 L227.34,120.66 M229.48,64.9 L229.48,123.73 M231.62,64.9 L231.62,125.23 M233.76,64.9 L233.76,125.71 M235.9,64.9 L235.9,125.73 M238.04,64.9 L238.04,124.24 M240.18,64.9 L240.18,124.2 M242.32,64.9 L242.32,125.16 M244.46,64.9 L244.46,126.62 M246.6,64.9 L246.6,126.76 M248.74,64.9 L248.74,126.35 M250.88,64.9 L250.88,125.13 M253.02,64.9 L253.02,122.29 M255.16,64.9 L255.16,118.39 M257.3,64.9 L257.3,111.04 M259.44,64.9 L259.44,101.34 M261.58,64.9 L261.58,87.63 M263.72,64.9 L263.72,76.45 M265.86,64.9 L265.86,70.61 M268,64.9 L268,67.6 M270.14,64.9 L270.14,66.53 M272.28,64.9 L272.28,66.25 M274.42,64.9 L274.42,65.99 M276.56,64.9 L276.56,65.79 M278.7,64.9 L278.7,65.75 M280.84,64.9 L280.84,65.72 M282.98,64.9 L282.98,65.68 M285.12,64.9 L285.12,65.64 M287.26,64.9 L287.26,65.61 M289.4,64.9 L289.4,65.57 M291.54,64.9 L291.54,65.53 M293.68,64.9 L293.68,65.5 M295.82,64.9 L295.82,65.46 M297.96,64.9 L297.96,65.42 M300.1,64.9 L300.1,65.38 M302.24,64.9 L302.24,65.35 M304.38,64.9 L304.38,65.31" fill="none" stroke="#151515" stroke-width="0.85"/>
<text x="265.8" y="109.4" font-size="11.03" text-anchor="start" fill="#2a2a2a" textLength="44.93" lengthAdjust="spacingAndGlyphs">wild type</text>
<line x1="213.2" y1="138.1" x2="215.5" y2="138.1" stroke="#1a1a1a" stroke-width="0.9"/>
<line x1="314.5" y1="138.1" x2="316.5" y2="138.1" stroke="#1a1a1a" stroke-width="0.8"/>
<text x="209.2" y="140.52" font-size="7.6" text-anchor="end" fill="#2a2a2a">0</text>
<line x1="214.3" y1="144.8" x2="215.5" y2="144.8" stroke="#1a1a1a" stroke-width="0.45"/>
<line x1="315.2" y1="144.8" x2="316.5" y2="144.8" stroke="#1a1a1a" stroke-width="0.5"/>
<line x1="213.2" y1="151.5" x2="215.5" y2="151.5" stroke="#1a1a1a" stroke-width="0.9"/>
<line x1="314.5" y1="151.5" x2="316.5" y2="151.5" stroke="#1a1a1a" stroke-width="0.8"/>
<text x="209.2" y="153.92" font-size="7.6" text-anchor="end" fill="#2a2a2a">-5</text>
<line x1="214.3" y1="158.2" x2="215.5" y2="158.2" stroke="#1a1a1a" stroke-width="0.45"/>
<line x1="315.2" y1="158.2" x2="316.5" y2="158.2" stroke="#1a1a1a" stroke-width="0.5"/>
<line x1="213.2" y1="164.9" x2="215.5" y2="164.9" stroke="#1a1a1a" stroke-width="0.9"/>
<line x1="314.5" y1="164.9" x2="316.5" y2="164.9" stroke="#1a1a1a" stroke-width="0.8"/>
<text x="209.2" y="167.32" font-size="7.6" text-anchor="end" fill="#2a2a2a">-10</text>
<line x1="214.3" y1="171.6" x2="215.5" y2="171.6" stroke="#1a1a1a" stroke-width="0.45"/>
<line x1="315.2" y1="171.6" x2="316.5" y2="171.6" stroke="#1a1a1a" stroke-width="0.5"/>
<line x1="213.2" y1="178.3" x2="215.5" y2="178.3" stroke="#1a1a1a" stroke-width="0.9"/>
<line x1="314.5" y1="178.3" x2="316.5" y2="178.3" stroke="#1a1a1a" stroke-width="0.8"/>
<text x="209.2" y="180.72" font-size="7.6" text-anchor="end" fill="#2a2a2a">-15</text>
<line x1="214.3" y1="185" x2="215.5" y2="185" stroke="#1a1a1a" stroke-width="0.45"/>
<line x1="315.2" y1="185" x2="316.5" y2="185" stroke="#1a1a1a" stroke-width="0.5"/>
<line x1="213.2" y1="191.7" x2="215.5" y2="191.7" stroke="#1a1a1a" stroke-width="0.9"/>
<line x1="314.5" y1="191.7" x2="316.5" y2="191.7" stroke="#1a1a1a" stroke-width="0.8"/>
<text x="209.2" y="194.12" font-size="7.6" text-anchor="end" fill="#2a2a2a">-20</text>
<line x1="214.3" y1="198.4" x2="215.5" y2="198.4" stroke="#1a1a1a" stroke-width="0.45"/>
<line x1="315.2" y1="198.4" x2="316.5" y2="198.4" stroke="#1a1a1a" stroke-width="0.5"/>
<line x1="213.2" y1="205.1" x2="215.5" y2="205.1" stroke="#1a1a1a" stroke-width="0.9"/>
<line x1="314.5" y1="205.1" x2="316.5" y2="205.1" stroke="#1a1a1a" stroke-width="0.8"/>
<text x="209.2" y="207.52" font-size="7.6" text-anchor="end" fill="#2a2a2a">-25</text>
<line x1="215.7" y1="205.5" x2="215.7" y2="207.5" stroke="#1a1a1a" stroke-width="0.6"/>
<line x1="215.7" y1="132.5" x2="215.7" y2="134.5" stroke="#1a1a1a" stroke-width="0.6"/>
<line x1="225.8" y1="205.5" x2="225.8" y2="207.5" stroke="#1a1a1a" stroke-width="0.6"/>
<line x1="225.8" y1="132.5" x2="225.8" y2="134.5" stroke="#1a1a1a" stroke-width="0.6"/>
<line x1="235.9" y1="205.5" x2="235.9" y2="207.5" stroke="#1a1a1a" stroke-width="0.6"/>
<line x1="235.9" y1="132.5" x2="235.9" y2="134.5" stroke="#1a1a1a" stroke-width="0.6"/>
<line x1="246" y1="205.5" x2="246" y2="207.5" stroke="#1a1a1a" stroke-width="0.6"/>
<line x1="246" y1="132.5" x2="246" y2="134.5" stroke="#1a1a1a" stroke-width="0.6"/>
<line x1="256.1" y1="205.5" x2="256.1" y2="207.5" stroke="#1a1a1a" stroke-width="0.6"/>
<line x1="256.1" y1="132.5" x2="256.1" y2="134.5" stroke="#1a1a1a" stroke-width="0.6"/>
<line x1="266.2" y1="205.5" x2="266.2" y2="207.5" stroke="#1a1a1a" stroke-width="0.6"/>
<line x1="266.2" y1="132.5" x2="266.2" y2="134.5" stroke="#1a1a1a" stroke-width="0.6"/>
<line x1="276.3" y1="205.5" x2="276.3" y2="207.5" stroke="#1a1a1a" stroke-width="0.6"/>
<line x1="276.3" y1="132.5" x2="276.3" y2="134.5" stroke="#1a1a1a" stroke-width="0.6"/>
<line x1="286.4" y1="205.5" x2="286.4" y2="207.5" stroke="#1a1a1a" stroke-width="0.6"/>
<line x1="286.4" y1="132.5" x2="286.4" y2="134.5" stroke="#1a1a1a" stroke-width="0.6"/>
<line x1="296.5" y1="205.5" x2="296.5" y2="207.5" stroke="#1a1a1a" stroke-width="0.6"/>
<line x1="296.5" y1="132.5" x2="296.5" y2="134.5" stroke="#1a1a1a" stroke-width="0.6"/>
<line x1="306.6" y1="205.5" x2="306.6" y2="207.5" stroke="#1a1a1a" stroke-width="0.6"/>
<line x1="306.6" y1="132.5" x2="306.6" y2="134.5" stroke="#1a1a1a" stroke-width="0.6"/>
<text x="226" y="217.44" font-size="8.2" text-anchor="middle" fill="#2a2a2a" textLength="4.1" lengthAdjust="spacingAndGlyphs">0</text>
<text x="246.1" y="217.44" font-size="8.2" text-anchor="middle" fill="#2a2a2a" textLength="10.26" lengthAdjust="spacingAndGlyphs">0.5</text>
<text x="266.6" y="217.44" font-size="8.2" text-anchor="middle" fill="#2a2a2a" textLength="4.1" lengthAdjust="spacingAndGlyphs">1</text>
<text x="286.2" y="217.44" font-size="8.2" text-anchor="middle" fill="#2a2a2a" textLength="10.26" lengthAdjust="spacingAndGlyphs">1.5</text>
<text x="306.7" y="217.44" font-size="8.2" text-anchor="middle" fill="#2a2a2a" textLength="4.1" lengthAdjust="spacingAndGlyphs">2</text>
<text x="244.35" y="233.12" font-size="8.44" text-anchor="start" fill="#2a2a2a" textLength="41.6" lengthAdjust="spacingAndGlyphs">Molar Ratio</text>
<text x="190.86" y="210.15" font-size="8.2" text-anchor="start" fill="#2a2a2a" transform="rotate(-90 190.86 210.15)" textLength="74.61" lengthAdjust="spacingAndGlyphs">kcal/mol of injectant</text>
<polyline points="225.6,159.4 227.5,161.6 230,165 231.8,169.2 233.7,175.3 235.9,180.4 237.7,185.6 239.8,189.8 241.7,192.6 243.7,194.8 245.9,196.3 248.2,197.3 251,197.8 253.8,196.8 256.2,195.9 258,192.6 260.2,185.1 262.3,168.6 264.6,152.5 266.5,144.6 268.5,141.4 270.6,140.18 272.6,139.83 274.6,139.47 276.6,139.3 278.6,139.18 280.6,139.06 282.6,138.94 284.6,138.82 286.6,138.76 288.6,138.72 290.6,138.67 292.6,138.63 294.6,138.58 296.6,138.54 298.6,138.49 300.6,138.45 302.6,138.4 304.6,138.36 306.6,138.31" fill="none" stroke="#111" stroke-width="1.15" stroke-linejoin="round"/>
<rect x="228.6" y="163.6" width="2.8" height="2.8" fill="#111" stroke="none" stroke-width="0"/>
<rect x="230.4" y="167.8" width="2.8" height="2.8" fill="#111" stroke="none" stroke-width="0"/>
<rect x="232.3" y="173.9" width="2.8" height="2.8" fill="#111" stroke="none" stroke-width="0"/>
<rect x="234.5" y="179" width="2.8" height="2.8" fill="#111" stroke="none" stroke-width="0"/>
<rect x="236.3" y="184.2" width="2.8" height="2.8" fill="#111" stroke="none" stroke-width="0"/>
<rect x="238.4" y="188.4" width="2.8" height="2.8" fill="#111" stroke="none" stroke-width="0"/>
<rect x="240.3" y="191.2" width="2.8" height="2.8" fill="#111" stroke="none" stroke-width="0"/>
<rect x="242.3" y="193.4" width="2.8" height="2.8" fill="#111" stroke="none" stroke-width="0"/>
<rect x="244.5" y="194.9" width="2.8" height="2.8" fill="#111" stroke="none" stroke-width="0"/>
<rect x="246.8" y="195.9" width="2.8" height="2.8" fill="#111" stroke="none" stroke-width="0"/>
<rect x="249.6" y="196.4" width="2.8" height="2.8" fill="#111" stroke="none" stroke-width="0"/>
<rect x="252.4" y="195.4" width="2.8" height="2.8" fill="#111" stroke="none" stroke-width="0"/>
<rect x="254.8" y="194.5" width="2.8" height="2.8" fill="#111" stroke="none" stroke-width="0"/>
<rect x="256.6" y="191.2" width="2.8" height="2.8" fill="#111" stroke="none" stroke-width="0"/>
<rect x="258.8" y="183.7" width="2.8" height="2.8" fill="#111" stroke="none" stroke-width="0"/>
<rect x="260.9" y="167.2" width="2.8" height="2.8" fill="#111" stroke="none" stroke-width="0"/>
<rect x="263.2" y="151.1" width="2.8" height="2.8" fill="#111" stroke="none" stroke-width="0"/>
<rect x="265.1" y="143.2" width="2.8" height="2.8" fill="#111" stroke="none" stroke-width="0"/>
<rect x="267.1" y="140" width="2.8" height="2.8" fill="#111" stroke="none" stroke-width="0"/>
<rect x="269.2" y="138.78" width="2.8" height="2.8" fill="#111" stroke="none" stroke-width="0"/>
<rect x="271.2" y="138.43" width="2.8" height="2.8" fill="#111" stroke="none" stroke-width="0"/>
<rect x="273.2" y="138.07" width="2.8" height="2.8" fill="#111" stroke="none" stroke-width="0"/>
<rect x="275.2" y="137.9" width="2.8" height="2.8" fill="#111" stroke="none" stroke-width="0"/>
<rect x="277.2" y="137.78" width="2.8" height="2.8" fill="#111" stroke="none" stroke-width="0"/>
<rect x="279.2" y="137.66" width="2.8" height="2.8" fill="#111" stroke="none" stroke-width="0"/>
<rect x="281.2" y="137.54" width="2.8" height="2.8" fill="#111" stroke="none" stroke-width="0"/>
<rect x="283.2" y="137.42" width="2.8" height="2.8" fill="#111" stroke="none" stroke-width="0"/>
<rect x="285.2" y="137.36" width="2.8" height="2.8" fill="#111" stroke="none" stroke-width="0"/>
<rect x="287.2" y="137.32" width="2.8" height="2.8" fill="#111" stroke="none" stroke-width="0"/>
<rect x="289.2" y="137.27" width="2.8" height="2.8" fill="#111" stroke="none" stroke-width="0"/>
<rect x="291.2" y="137.23" width="2.8" height="2.8" fill="#111" stroke="none" stroke-width="0"/>
<rect x="293.2" y="137.18" width="2.8" height="2.8" fill="#111" stroke="none" stroke-width="0"/>
<rect x="295.2" y="137.14" width="2.8" height="2.8" fill="#111" stroke="none" stroke-width="0"/>
<rect x="297.2" y="137.09" width="2.8" height="2.8" fill="#111" stroke="none" stroke-width="0"/>
<rect x="299.2" y="137.05" width="2.8" height="2.8" fill="#111" stroke="none" stroke-width="0"/>
<rect x="301.2" y="137" width="2.8" height="2.8" fill="#111" stroke="none" stroke-width="0"/>
<rect x="303.2" y="136.96" width="2.8" height="2.8" fill="#111" stroke="none" stroke-width="0"/>
<rect x="305.2" y="136.91" width="2.8" height="2.8" fill="#111" stroke="none" stroke-width="0"/>
<line x1="218.5" y1="263.6" x2="218.5" y2="351.4" stroke="#1a1a1a" stroke-width="1.0"/>
<line x1="218" y1="350.9" x2="328" y2="350.9" stroke="#1a1a1a" stroke-width="1.0"/>
<line x1="216.9" y1="350.9" x2="218.5" y2="350.9" stroke="#1a1a1a" stroke-width="0.8"/>
<text x="211.8" y="353.93" font-size="7.9" text-anchor="end" fill="#2a2a2a" textLength="13.22" lengthAdjust="spacingAndGlyphs">0.01</text>
<line x1="217.3" y1="342.14" x2="218.5" y2="342.14" stroke="#1a1a1a" stroke-width="0.45"/>
<line x1="217.3" y1="337.02" x2="218.5" y2="337.02" stroke="#1a1a1a" stroke-width="0.45"/>
<line x1="217.3" y1="333.38" x2="218.5" y2="333.38" stroke="#1a1a1a" stroke-width="0.45"/>
<line x1="217.3" y1="330.56" x2="218.5" y2="330.56" stroke="#1a1a1a" stroke-width="0.45"/>
<line x1="217.3" y1="328.26" x2="218.5" y2="328.26" stroke="#1a1a1a" stroke-width="0.45"/>
<line x1="217.3" y1="326.31" x2="218.5" y2="326.31" stroke="#1a1a1a" stroke-width="0.45"/>
<line x1="217.3" y1="324.62" x2="218.5" y2="324.62" stroke="#1a1a1a" stroke-width="0.45"/>
<line x1="217.3" y1="323.13" x2="218.5" y2="323.13" stroke="#1a1a1a" stroke-width="0.45"/>
<line x1="216.9" y1="321.8" x2="218.5" y2="321.8" stroke="#1a1a1a" stroke-width="0.8"/>
<text x="211.8" y="324.83" font-size="7.9" text-anchor="end" fill="#2a2a2a" textLength="9.44" lengthAdjust="spacingAndGlyphs">0.1</text>
<line x1="217.3" y1="313.04" x2="218.5" y2="313.04" stroke="#1a1a1a" stroke-width="0.45"/>
<line x1="217.3" y1="307.92" x2="218.5" y2="307.92" stroke="#1a1a1a" stroke-width="0.45"/>
<line x1="217.3" y1="304.28" x2="218.5" y2="304.28" stroke="#1a1a1a" stroke-width="0.45"/>
<line x1="217.3" y1="301.46" x2="218.5" y2="301.46" stroke="#1a1a1a" stroke-width="0.45"/>
<line x1="217.3" y1="299.16" x2="218.5" y2="299.16" stroke="#1a1a1a" stroke-width="0.45"/>
<line x1="217.3" y1="297.21" x2="218.5" y2="297.21" stroke="#1a1a1a" stroke-width="0.45"/>
<line x1="217.3" y1="295.52" x2="218.5" y2="295.52" stroke="#1a1a1a" stroke-width="0.45"/>
<line x1="217.3" y1="294.03" x2="218.5" y2="294.03" stroke="#1a1a1a" stroke-width="0.45"/>
<line x1="216.9" y1="292.7" x2="218.5" y2="292.7" stroke="#1a1a1a" stroke-width="0.8"/>
<text x="208.2" y="295.73" font-size="7.9" text-anchor="end" fill="#2a2a2a" textLength="3.78" lengthAdjust="spacingAndGlyphs">1</text>
<line x1="217.3" y1="283.94" x2="218.5" y2="283.94" stroke="#1a1a1a" stroke-width="0.45"/>
<line x1="217.3" y1="278.82" x2="218.5" y2="278.82" stroke="#1a1a1a" stroke-width="0.45"/>
<line x1="217.3" y1="275.18" x2="218.5" y2="275.18" stroke="#1a1a1a" stroke-width="0.45"/>
<line x1="217.3" y1="272.36" x2="218.5" y2="272.36" stroke="#1a1a1a" stroke-width="0.45"/>
<line x1="217.3" y1="270.06" x2="218.5" y2="270.06" stroke="#1a1a1a" stroke-width="0.45"/>
<line x1="217.3" y1="268.11" x2="218.5" y2="268.11" stroke="#1a1a1a" stroke-width="0.45"/>
<line x1="217.3" y1="266.42" x2="218.5" y2="266.42" stroke="#1a1a1a" stroke-width="0.45"/>
<line x1="217.3" y1="264.93" x2="218.5" y2="264.93" stroke="#1a1a1a" stroke-width="0.45"/>
<line x1="216.9" y1="263.6" x2="218.5" y2="263.6" stroke="#1a1a1a" stroke-width="0.8"/>
<text x="211.8" y="266.63" font-size="7.9" text-anchor="end" fill="#2a2a2a" textLength="7.56" lengthAdjust="spacingAndGlyphs">10</text>
<text x="193.15" y="318.99" font-size="9.9" text-anchor="start" fill="#2a2a2a" transform="rotate(-90 193.15 318.99)" textLength="35.29" lengthAdjust="spacingAndGlyphs">Kd (μM)</text>
<text x="241.2" y="278.2" font-size="11.03" text-anchor="start" fill="#2a2a2a" textLength="45.53" lengthAdjust="spacingAndGlyphs">wild type</text>
<rect x="243.7" y="318.7" width="22.6" height="32.2" fill="#c3c3c3" stroke="#222" stroke-width="0.7"/>
<rect x="279.4" y="294.3" width="23.3" height="56.6" fill="#818381" stroke="#222" stroke-width="0.7"/>
<circle cx="253.7" cy="312.9" r="1.45" fill="white" stroke="#222" stroke-width="0.7"/>
<circle cx="252.4" cy="329.1" r="1.45" fill="white" stroke="#222" stroke-width="0.7"/>
<circle cx="289.6" cy="294.3" r="1.45" fill="white" stroke="#222" stroke-width="0.7"/>
<circle cx="294.3" cy="294.3" r="1.45" fill="white" stroke="#222" stroke-width="0.7"/>
<text x="245.31" y="364.6" font-size="9.24" text-anchor="start" fill="#2a2a2a" textLength="18.64" lengthAdjust="spacingAndGlyphs">high</text>
<text x="283.15" y="364.51" font-size="9.12" text-anchor="start" fill="#2a2a2a" textLength="15.11" lengthAdjust="spacingAndGlyphs">low</text>
<line x1="220.5" y1="403" x2="220.5" y2="490" stroke="#1a1a1a" stroke-width="1.0"/>
<line x1="218.5" y1="403.7" x2="220.5" y2="403.7" stroke="#1a1a1a" stroke-width="0.8"/>
<text x="214.6" y="405.91" font-size="7" text-anchor="end" fill="#2a2a2a" textLength="7.4" lengthAdjust="spacingAndGlyphs">20</text>
<line x1="218.5" y1="421.1" x2="220.5" y2="421.1" stroke="#1a1a1a" stroke-width="0.8"/>
<text x="214.6" y="423.31" font-size="7" text-anchor="end" fill="#2a2a2a" textLength="7.4" lengthAdjust="spacingAndGlyphs">10</text>
<line x1="218.5" y1="438.5" x2="220.5" y2="438.5" stroke="#1a1a1a" stroke-width="0.8"/>
<text x="214.6" y="440.71" font-size="7" text-anchor="end" fill="#2a2a2a" textLength="3.7" lengthAdjust="spacingAndGlyphs">0</text>
<line x1="218.5" y1="455.9" x2="220.5" y2="455.9" stroke="#1a1a1a" stroke-width="0.8"/>
<text x="214.6" y="458.11" font-size="7" text-anchor="end" fill="#2a2a2a" textLength="9.61" lengthAdjust="spacingAndGlyphs">-10</text>
<line x1="218.5" y1="473.3" x2="220.5" y2="473.3" stroke="#1a1a1a" stroke-width="0.8"/>
<text x="214.6" y="475.51" font-size="7" text-anchor="end" fill="#2a2a2a" textLength="9.61" lengthAdjust="spacingAndGlyphs">-20</text>
<line x1="218.5" y1="490.7" x2="220.5" y2="490.7" stroke="#1a1a1a" stroke-width="0.8"/>
<text x="214.6" y="492.91" font-size="7" text-anchor="end" fill="#2a2a2a" textLength="9.61" lengthAdjust="spacingAndGlyphs">-30</text>
<line x1="219.3" y1="487.22" x2="220.5" y2="487.22" stroke="#1a1a1a" stroke-width="0.45"/>
<line x1="219.3" y1="483.74" x2="220.5" y2="483.74" stroke="#1a1a1a" stroke-width="0.45"/>
<line x1="219.3" y1="480.26" x2="220.5" y2="480.26" stroke="#1a1a1a" stroke-width="0.45"/>
<line x1="219.3" y1="476.78" x2="220.5" y2="476.78" stroke="#1a1a1a" stroke-width="0.45"/>
<line x1="219.3" y1="469.82" x2="220.5" y2="469.82" stroke="#1a1a1a" stroke-width="0.45"/>
<line x1="219.3" y1="466.34" x2="220.5" y2="466.34" stroke="#1a1a1a" stroke-width="0.45"/>
<line x1="219.3" y1="462.86" x2="220.5" y2="462.86" stroke="#1a1a1a" stroke-width="0.45"/>
<line x1="219.3" y1="459.38" x2="220.5" y2="459.38" stroke="#1a1a1a" stroke-width="0.45"/>
<line x1="219.3" y1="452.42" x2="220.5" y2="452.42" stroke="#1a1a1a" stroke-width="0.45"/>
<line x1="219.3" y1="448.94" x2="220.5" y2="448.94" stroke="#1a1a1a" stroke-width="0.45"/>
<line x1="219.3" y1="445.46" x2="220.5" y2="445.46" stroke="#1a1a1a" stroke-width="0.45"/>
<line x1="219.3" y1="441.98" x2="220.5" y2="441.98" stroke="#1a1a1a" stroke-width="0.45"/>
<line x1="219.3" y1="435.02" x2="220.5" y2="435.02" stroke="#1a1a1a" stroke-width="0.45"/>
<line x1="219.3" y1="431.54" x2="220.5" y2="431.54" stroke="#1a1a1a" stroke-width="0.45"/>
<line x1="219.3" y1="428.06" x2="220.5" y2="428.06" stroke="#1a1a1a" stroke-width="0.45"/>
<line x1="219.3" y1="424.58" x2="220.5" y2="424.58" stroke="#1a1a1a" stroke-width="0.45"/>
<line x1="219.3" y1="417.62" x2="220.5" y2="417.62" stroke="#1a1a1a" stroke-width="0.45"/>
<line x1="219.3" y1="414.14" x2="220.5" y2="414.14" stroke="#1a1a1a" stroke-width="0.45"/>
<line x1="219.3" y1="410.66" x2="220.5" y2="410.66" stroke="#1a1a1a" stroke-width="0.45"/>
<line x1="219.3" y1="407.18" x2="220.5" y2="407.18" stroke="#1a1a1a" stroke-width="0.45"/>
<line x1="220.5" y1="438.5" x2="329.8" y2="438.5" stroke="#1a1a1a" stroke-width="1.1"/>
<text x="199.51" y="456.54" font-size="8.84" text-anchor="start" fill="#2a2a2a" transform="rotate(-90 199.51 456.54)" textLength="36.31" lengthAdjust="spacingAndGlyphs">kcal/mol</text>
<text x="250.9" y="396.3" font-size="11.03" text-anchor="start" fill="#2a2a2a" textLength="45.74" lengthAdjust="spacingAndGlyphs">wild type</text>
<rect x="308" y="392.4" width="12.3" height="12.2" fill="#bfc0c3" stroke="none" stroke-width="0"/>
<rect x="308" y="412" width="12.3" height="11.9" fill="#6a6b70" stroke="none" stroke-width="0"/>
<text x="328.27" y="401.3" font-size="9.52" text-anchor="start" fill="#2a2a2a" textLength="19.72" lengthAdjust="spacingAndGlyphs">high</text>
<text x="329.46" y="420.8" font-size="9.66" text-anchor="start" fill="#2a2a2a" textLength="14.8" lengthAdjust="spacingAndGlyphs">low</text>
<rect x="228.7" y="435.2" width="9.1" height="3.3" fill="#c3c3c3" stroke="#222" stroke-width="0.7"/>
<rect x="241.6" y="438.5" width="9.1" height="42.8" fill="#818381" stroke="#222" stroke-width="0.7"/>
<rect x="267.8" y="438.5" width="8.3" height="18.7" fill="#c3c3c3" stroke="#222" stroke-width="0.7"/>
<rect x="280.5" y="409.2" width="8.1" height="29.3" fill="#818381" stroke="#222" stroke-width="0.7"/>
<rect x="305.7" y="438.5" width="8.9" height="16.8" fill="#c3c3c3" stroke="#222" stroke-width="0.7"/>
<rect x="318.4" y="438.5" width="8.9" height="14" fill="#818381" stroke="#222" stroke-width="0.7"/>
<line x1="220.5" y1="438.5" x2="329.8" y2="438.5" stroke="#1a1a1a" stroke-width="1.1"/>
<circle cx="232.6" cy="446.2" r="1.3" fill="white" stroke="#222" stroke-width="0.65"/>
<circle cx="245.4" cy="479.1" r="1.3" fill="white" stroke="#222" stroke-width="0.65"/>
<circle cx="270.4" cy="447.2" r="1.3" fill="white" stroke="#222" stroke-width="0.65"/>
<circle cx="283.7" cy="407.3" r="1.3" fill="white" stroke="#222" stroke-width="0.65"/>
<circle cx="284.6" cy="411.5" r="1.3" fill="white" stroke="#222" stroke-width="0.65"/>
<circle cx="310.4" cy="454.8" r="1.3" fill="white" stroke="#222" stroke-width="0.65"/>
<circle cx="321.6" cy="452.3" r="1.3" fill="white" stroke="#222" stroke-width="0.65"/>
<circle cx="232.6" cy="424.8" r="1" fill="#222" stroke="none" stroke-width="0"/>
<circle cx="247.3" cy="483.4" r="1" fill="#222" stroke="none" stroke-width="0"/>
<circle cx="271.5" cy="467.5" r="1" fill="#222" stroke="none" stroke-width="0"/>
<text x="232.61" y="415.1" font-size="9.57" text-anchor="start" fill="#2a2a2a" textLength="13.25" lengthAdjust="spacingAndGlyphs">ΔH</text>
<text x="266.63" y="486.5" font-size="10.42" text-anchor="start" fill="#2a2a2a" textLength="18.77" lengthAdjust="spacingAndGlyphs">-TΔS</text>
<text x="308.63" y="470" font-size="9.86" text-anchor="start" fill="#2a2a2a" textLength="13.22" lengthAdjust="spacingAndGlyphs">ΔG</text>
<rect x="409.5" y="69.5" width="91" height="131" fill="none" stroke="#1a1a1a" stroke-width="0.9"/>
<line x1="409.5" y1="135.5" x2="500.5" y2="135.5" stroke="#1a1a1a" stroke-width="0.9"/>
<line x1="416" y1="69.5" x2="416" y2="71.5" stroke="#1a1a1a" stroke-width="0.6"/>
<line x1="432.2" y1="69.5" x2="432.2" y2="71.5" stroke="#1a1a1a" stroke-width="0.6"/>
<line x1="448.4" y1="69.5" x2="448.4" y2="71.5" stroke="#1a1a1a" stroke-width="0.6"/>
<line x1="464.6" y1="69.5" x2="464.6" y2="71.5" stroke="#1a1a1a" stroke-width="0.6"/>
<line x1="480.9" y1="69.5" x2="480.9" y2="71.5" stroke="#1a1a1a" stroke-width="0.6"/>
<line x1="497.1" y1="69.5" x2="497.1" y2="71.5" stroke="#1a1a1a" stroke-width="0.6"/>
<text x="415.7" y="64.22" font-size="7.6" text-anchor="middle" fill="#2a2a2a">0</text>
<text x="447.7" y="64.22" font-size="7.6" text-anchor="middle" fill="#2a2a2a">50</text>
<text x="481.9" y="64.22" font-size="7.6" text-anchor="middle" fill="#2a2a2a">100</text>
<text x="434.06" y="49.3" font-size="7.39" text-anchor="start" fill="#2a2a2a" textLength="34.32" lengthAdjust="spacingAndGlyphs">Time (min)</text>
<line x1="407.3" y1="76.4" x2="409.5" y2="76.4" stroke="#1a1a1a" stroke-width="0.6"/>
<line x1="498.5" y1="76.4" x2="500.5" y2="76.4" stroke="#1a1a1a" stroke-width="0.6"/>
<text x="392.7" y="79.12" font-size="7.6" text-anchor="start" fill="#2a2a2a">0</text>
<line x1="407.3" y1="89.5" x2="409.5" y2="89.5" stroke="#1a1a1a" stroke-width="0.6"/>
<line x1="498.5" y1="89.5" x2="500.5" y2="89.5" stroke="#1a1a1a" stroke-width="0.6"/>
<text x="390.6" y="92.22" font-size="7.6" text-anchor="start" fill="#2a2a2a">-0.5</text>
<line x1="407.3" y1="102.6" x2="409.5" y2="102.6" stroke="#1a1a1a" stroke-width="0.6"/>
<line x1="498.5" y1="102.6" x2="500.5" y2="102.6" stroke="#1a1a1a" stroke-width="0.6"/>
<text x="390.2" y="105.32" font-size="7.6" text-anchor="start" fill="#2a2a2a">-1</text>
<line x1="407.3" y1="115.7" x2="409.5" y2="115.7" stroke="#1a1a1a" stroke-width="0.6"/>
<line x1="498.5" y1="115.7" x2="500.5" y2="115.7" stroke="#1a1a1a" stroke-width="0.6"/>
<text x="390.2" y="118.42" font-size="7.6" text-anchor="start" fill="#2a2a2a">-1.5</text>
<line x1="407.3" y1="128.8" x2="409.5" y2="128.8" stroke="#1a1a1a" stroke-width="0.6"/>
<line x1="498.5" y1="128.8" x2="500.5" y2="128.8" stroke="#1a1a1a" stroke-width="0.6"/>
<text x="390.2" y="131.52" font-size="7.6" text-anchor="start" fill="#2a2a2a">-2</text>
<line x1="408.3" y1="83" x2="409.5" y2="83" stroke="#1a1a1a" stroke-width="0.45"/>
<line x1="499.3" y1="83" x2="500.5" y2="83" stroke="#1a1a1a" stroke-width="0.45"/>
<line x1="408.3" y1="96" x2="409.5" y2="96" stroke="#1a1a1a" stroke-width="0.45"/>
<line x1="499.3" y1="96" x2="500.5" y2="96" stroke="#1a1a1a" stroke-width="0.45"/>
<line x1="408.3" y1="109.2" x2="409.5" y2="109.2" stroke="#1a1a1a" stroke-width="0.45"/>
<line x1="499.3" y1="109.2" x2="500.5" y2="109.2" stroke="#1a1a1a" stroke-width="0.45"/>
<line x1="408.3" y1="122.3" x2="409.5" y2="122.3" stroke="#1a1a1a" stroke-width="0.45"/>
<line x1="499.3" y1="122.3" x2="500.5" y2="122.3" stroke="#1a1a1a" stroke-width="0.45"/>
<text x="375.36" y="115.19" font-size="7.5" text-anchor="start" fill="#2a2a2a" transform="rotate(-90 375.36 115.19)" textLength="19.87" lengthAdjust="spacingAndGlyphs">μcal/s</text>
<text x="467.34" y="127.7" font-size="9.58" text-anchor="start" fill="#2a2a2a" textLength="24.76" lengthAdjust="spacingAndGlyphs">E488K</text>
<line x1="416" y1="76.4" x2="494" y2="76.4" stroke="#1a1a1a" stroke-width="0.8"/>
<path d="M418.4,76.4 L418.4,123.4 L419,102.25 L419.6,86.74 L420.22,76.4 Z M420.32,76.4 L420.32,129.69 L420.92,105.71 L421.52,88.12 L422.14,76.4 Z M422.24,76.4 L422.24,129.17 L422.84,105.42 L423.44,88.01 L424.06,76.4 Z M424.16,76.4 L424.16,127.61 L424.76,104.57 L425.36,87.67 L425.98,76.4 Z M426.08,76.4 L426.08,125.45 L426.68,103.38 L427.28,87.19 L427.9,76.4 Z M428,76.4 L428,124.1 L428.6,102.64 L429.2,86.89 L429.82,76.4 Z M429.92,76.4 L429.92,123.41 L430.52,102.26 L431.12,86.74 L431.74,76.4 Z M431.84,76.4 L431.84,122.68 L432.44,101.86 L433.04,86.58 L433.66,76.4 Z M433.76,76.4 L433.76,121.95 L434.36,101.45 L434.96,86.42 L435.58,76.4 Z M435.68,76.4 L435.68,121.21 L436.28,101.04 L436.88,86.26 L437.5,76.4 Z M437.6,76.4 L437.6,118.9 L438.2,99.78 L438.8,85.75 L439.42,76.4 Z M439.52,76.4 L439.52,116.58 L440.12,98.5 L440.72,85.24 L441.34,76.4 Z M441.44,76.4 L441.44,114.05 L442.04,97.11 L442.64,84.68 L443.26,76.4 Z M443.36,76.4 L443.36,111.46 L443.96,95.68 L444.56,84.11 L445.18,76.4 Z M445.28,76.4 L445.28,106.17 L445.88,92.77 L446.48,82.95 L447.1,76.4 Z M447.2,76.4 L447.2,100.31 L447.8,89.55 L448.4,81.66 L449.02,76.4 Z M449.12,76.4 L449.12,94.67 L449.72,86.45 L450.32,80.42 L450.94,76.4 Z M451.04,76.4 L451.04,89.05 L451.64,83.36 L452.24,79.18 L452.86,76.4 Z M452.96,76.4 L452.96,85.27 L453.56,81.28 L454.16,78.35 L454.78,76.4 Z M454.88,76.4 L454.88,81.91 L455.48,79.43 L456.08,77.61 L456.7,76.4 Z M456.8,76.4 L456.8,80.08 L457.4,78.42 L458,77.21 L458.62,76.4 Z M458.72,76.4 L458.72,78.81 L459.32,77.73 L459.92,76.93 L460.54,76.4 Z M460.64,76.4 L460.64,78.11 L461.24,77.34 L461.84,76.78 L462.46,76.4 Z M462.56,76.4 L462.56,77.78 L463.16,77.16 L463.76,76.7 L464.38,76.4 Z M464.48,76.4 L464.48,77.46 L465.08,76.98 L465.68,76.63 L466.3,76.4 Z M466.4,76.4 L466.4,77.19 L467,76.84 L467.6,76.57 L468.22,76.4 Z M468.32,76.4 L468.32,77.15 L468.92,76.81 L469.52,76.56 L470.14,76.4 Z M470.24,76.4 L470.24,77.11 L470.84,76.79 L471.44,76.56 L472.06,76.4 Z M472.16,76.4 L472.16,77.06 L472.76,76.76 L473.36,76.55 L473.98,76.4 Z M474.08,76.4 L474.08,77.02 L474.68,76.74 L475.28,76.54 L475.9,76.4 Z M476,76.4 L476,76.98 L476.6,76.72 L477.2,76.53 L477.82,76.4 Z M477.92,76.4 L477.92,76.94 L478.52,76.69 L479.12,76.52 L479.74,76.4 Z M479.84,76.4 L479.84,76.89 L480.44,76.67 L481.04,76.51 L481.66,76.4 Z M481.76,76.4 L481.76,76.85 L482.36,76.65 L482.96,76.5 L483.58,76.4 Z M483.68,76.4 L483.68,76.81 L484.28,76.62 L484.88,76.49 L485.5,76.4 Z M485.6,76.4 L485.6,76.76 L486.2,76.6 L486.8,76.48 L487.42,76.4 Z M487.52,76.4 L487.52,76.72 L488.12,76.58 L488.72,76.47 L489.34,76.4 Z M489.44,76.4 L489.44,76.68 L490.04,76.55 L490.64,76.46 L491.26,76.4 Z M491.36,76.4 L491.36,76.64 L491.96,76.53 L492.56,76.45 L493.18,76.4 Z M493.28,76.4 L493.28,76.6 L493.88,76.51 L494.48,76.44 L495.1,76.4 Z" fill="#a0a0a0" stroke="none"/>
<path d="M418.4,76.4 L418.4,123.4 M420.32,76.4 L420.32,129.69 M422.24,76.4 L422.24,129.17 M424.16,76.4 L424.16,127.61 M426.08,76.4 L426.08,125.45 M428,76.4 L428,124.1 M429.92,76.4 L429.92,123.41 M431.84,76.4 L431.84,122.68 M433.76,76.4 L433.76,121.95 M435.68,76.4 L435.68,121.21 M437.6,76.4 L437.6,118.9 M439.52,76.4 L439.52,116.58 M441.44,76.4 L441.44,114.05 M443.36,76.4 L443.36,111.46 M445.28,76.4 L445.28,106.17 M447.2,76.4 L447.2,100.31 M449.12,76.4 L449.12,94.67 M451.04,76.4 L451.04,89.05 M452.96,76.4 L452.96,85.27 M454.88,76.4 L454.88,81.91 M456.8,76.4 L456.8,80.08 M458.72,76.4 L458.72,78.81 M460.64,76.4 L460.64,78.11 M462.56,76.4 L462.56,77.78 M464.48,76.4 L464.48,77.46 M466.4,76.4 L466.4,77.19 M468.32,76.4 L468.32,77.15 M470.24,76.4 L470.24,77.11 M472.16,76.4 L472.16,77.06 M474.08,76.4 L474.08,77.02 M476,76.4 L476,76.98 M477.92,76.4 L477.92,76.94 M479.84,76.4 L479.84,76.89 M481.76,76.4 L481.76,76.85 M483.68,76.4 L483.68,76.81 M485.6,76.4 L485.6,76.76 M487.52,76.4 L487.52,76.72 M489.44,76.4 L489.44,76.68 M491.36,76.4 L491.36,76.64 M493.28,76.4 L493.28,76.6" fill="none" stroke="#151515" stroke-width="0.85"/>
<text x="391.6" y="143.92" font-size="7.6" text-anchor="start" fill="#2a2a2a">0</text>
<text x="389" y="157.32" font-size="7.6" text-anchor="start" fill="#2a2a2a">-2</text>
<text x="389" y="170.52" font-size="7.6" text-anchor="start" fill="#2a2a2a">-4</text>
<text x="389" y="183.52" font-size="7.6" text-anchor="start" fill="#2a2a2a">-6</text>
<text x="389" y="196.12" font-size="7.6" text-anchor="start" fill="#2a2a2a">-8</text>
<line x1="407.3" y1="141.8" x2="409.5" y2="141.8" stroke="#1a1a1a" stroke-width="0.6"/>
<line x1="498.5" y1="141.8" x2="500.5" y2="141.8" stroke="#1a1a1a" stroke-width="0.6"/>
<line x1="407.3" y1="154.9" x2="409.5" y2="154.9" stroke="#1a1a1a" stroke-width="0.6"/>
<line x1="498.5" y1="154.9" x2="500.5" y2="154.9" stroke="#1a1a1a" stroke-width="0.6"/>
<line x1="407.3" y1="168" x2="409.5" y2="168" stroke="#1a1a1a" stroke-width="0.6"/>
<line x1="498.5" y1="168" x2="500.5" y2="168" stroke="#1a1a1a" stroke-width="0.6"/>
<line x1="407.3" y1="181.1" x2="409.5" y2="181.1" stroke="#1a1a1a" stroke-width="0.6"/>
<line x1="498.5" y1="181.1" x2="500.5" y2="181.1" stroke="#1a1a1a" stroke-width="0.6"/>
<line x1="407.3" y1="194.2" x2="409.5" y2="194.2" stroke="#1a1a1a" stroke-width="0.6"/>
<line x1="498.5" y1="194.2" x2="500.5" y2="194.2" stroke="#1a1a1a" stroke-width="0.6"/>
<line x1="408.3" y1="148.4" x2="409.5" y2="148.4" stroke="#1a1a1a" stroke-width="0.45"/>
<line x1="499.3" y1="148.4" x2="500.5" y2="148.4" stroke="#1a1a1a" stroke-width="0.45"/>
<line x1="408.3" y1="161.5" x2="409.5" y2="161.5" stroke="#1a1a1a" stroke-width="0.45"/>
<line x1="499.3" y1="161.5" x2="500.5" y2="161.5" stroke="#1a1a1a" stroke-width="0.45"/>
<line x1="408.3" y1="174.6" x2="409.5" y2="174.6" stroke="#1a1a1a" stroke-width="0.45"/>
<line x1="499.3" y1="174.6" x2="500.5" y2="174.6" stroke="#1a1a1a" stroke-width="0.45"/>
<line x1="408.3" y1="187.7" x2="409.5" y2="187.7" stroke="#1a1a1a" stroke-width="0.45"/>
<line x1="499.3" y1="187.7" x2="500.5" y2="187.7" stroke="#1a1a1a" stroke-width="0.45"/>
<text x="375.4" y="188.55" font-size="6.6" text-anchor="start" fill="#2a2a2a" transform="rotate(-90 375.4 188.55)" textLength="60.19" lengthAdjust="spacingAndGlyphs">kcal/mol of injectant</text>
<line x1="418.9" y1="200.5" x2="418.9" y2="202.5" stroke="#1a1a1a" stroke-width="0.6"/>
<line x1="418.9" y1="135.5" x2="418.9" y2="137.5" stroke="#1a1a1a" stroke-width="0.6"/>
<line x1="427.9" y1="200.5" x2="427.9" y2="202.5" stroke="#1a1a1a" stroke-width="0.6"/>
<line x1="427.9" y1="135.5" x2="427.9" y2="137.5" stroke="#1a1a1a" stroke-width="0.6"/>
<line x1="436.9" y1="200.5" x2="436.9" y2="202.5" stroke="#1a1a1a" stroke-width="0.6"/>
<line x1="436.9" y1="135.5" x2="436.9" y2="137.5" stroke="#1a1a1a" stroke-width="0.6"/>
<line x1="446" y1="200.5" x2="446" y2="202.5" stroke="#1a1a1a" stroke-width="0.6"/>
<line x1="446" y1="135.5" x2="446" y2="137.5" stroke="#1a1a1a" stroke-width="0.6"/>
<line x1="455.2" y1="200.5" x2="455.2" y2="202.5" stroke="#1a1a1a" stroke-width="0.6"/>
<line x1="455.2" y1="135.5" x2="455.2" y2="137.5" stroke="#1a1a1a" stroke-width="0.6"/>
<line x1="464.2" y1="200.5" x2="464.2" y2="202.5" stroke="#1a1a1a" stroke-width="0.6"/>
<line x1="464.2" y1="135.5" x2="464.2" y2="137.5" stroke="#1a1a1a" stroke-width="0.6"/>
<line x1="473.4" y1="200.5" x2="473.4" y2="202.5" stroke="#1a1a1a" stroke-width="0.6"/>
<line x1="473.4" y1="135.5" x2="473.4" y2="137.5" stroke="#1a1a1a" stroke-width="0.6"/>
<line x1="482.6" y1="200.5" x2="482.6" y2="202.5" stroke="#1a1a1a" stroke-width="0.6"/>
<line x1="482.6" y1="135.5" x2="482.6" y2="137.5" stroke="#1a1a1a" stroke-width="0.6"/>
<line x1="491.7" y1="200.5" x2="491.7" y2="202.5" stroke="#1a1a1a" stroke-width="0.6"/>
<line x1="491.7" y1="135.5" x2="491.7" y2="137.5" stroke="#1a1a1a" stroke-width="0.6"/>
<text x="417.5" y="211.52" font-size="7.6" text-anchor="middle" fill="#2a2a2a">0.0</text>
<text x="435.1" y="211.52" font-size="7.6" text-anchor="middle" fill="#2a2a2a">0.5</text>
<text x="453" y="211.52" font-size="7.6" text-anchor="middle" fill="#2a2a2a">1.0</text>
<text x="471.4" y="211.52" font-size="7.6" text-anchor="middle" fill="#2a2a2a">1.5</text>
<text x="489.2" y="211.52" font-size="7.6" text-anchor="middle" fill="#2a2a2a">2.0</text>
<text x="422.02" y="228.69" font-size="10.75" text-anchor="start" fill="#2a2a2a" textLength="50" lengthAdjust="spacingAndGlyphs">Molar Ratio</text>
<polyline points="418.9,192.2 421.7,192.5 425.1,192.2 428.5,191.4 431.9,190.2 435.2,189.1 438,188 440.8,186.3 443.1,184.1 445.3,180.7 447.6,176.2 448.7,172.3 449.6,168.3 450.7,164.4 451.5,160.5 452.4,157.1 453.2,153.7 454.1,151.3 455.2,149.2 456.6,147 458.3,145 459.9,143.8 462.2,143.1 465,142.5 470,142.1 493.3,141.8" fill="none" stroke="#111" stroke-width="1.15" stroke-linejoin="round"/>
<rect x="419.05" y="191.01" width="2.7" height="2.7" fill="#111" stroke="none" stroke-width="0"/>
<rect x="420.95" y="191.1" width="2.7" height="2.7" fill="#111" stroke="none" stroke-width="0"/>
<rect x="422.85" y="190.93" width="2.7" height="2.7" fill="#111" stroke="none" stroke-width="0"/>
<rect x="424.75" y="190.61" width="2.7" height="2.7" fill="#111" stroke="none" stroke-width="0"/>
<rect x="426.65" y="190.17" width="2.7" height="2.7" fill="#111" stroke="none" stroke-width="0"/>
<rect x="428.55" y="189.56" width="2.7" height="2.7" fill="#111" stroke="none" stroke-width="0"/>
<rect x="430.45" y="188.89" width="2.7" height="2.7" fill="#111" stroke="none" stroke-width="0"/>
<rect x="432.35" y="188.25" width="2.7" height="2.7" fill="#111" stroke="none" stroke-width="0"/>
<rect x="434.25" y="187.59" width="2.7" height="2.7" fill="#111" stroke="none" stroke-width="0"/>
<rect x="436.15" y="186.85" width="2.7" height="2.7" fill="#111" stroke="none" stroke-width="0"/>
<rect x="438.05" y="185.8" width="2.7" height="2.7" fill="#111" stroke="none" stroke-width="0"/>
<rect x="439.95" y="184.47" width="2.7" height="2.7" fill="#111" stroke="none" stroke-width="0"/>
<rect x="441.85" y="182.6" width="2.7" height="2.7" fill="#111" stroke="none" stroke-width="0"/>
<rect x="443.75" y="179.66" width="2.7" height="2.7" fill="#111" stroke="none" stroke-width="0"/>
<rect x="445.65" y="176.02" width="2.7" height="2.7" fill="#111" stroke="none" stroke-width="0"/>
<rect x="447.55" y="170.06" width="2.7" height="2.7" fill="#111" stroke="none" stroke-width="0"/>
<rect x="449.45" y="162.56" width="2.7" height="2.7" fill="#111" stroke="none" stroke-width="0"/>
<rect x="451.35" y="154.48" width="2.7" height="2.7" fill="#111" stroke="none" stroke-width="0"/>
<rect x="453.25" y="149" width="2.7" height="2.7" fill="#111" stroke="none" stroke-width="0"/>
<rect x="455.15" y="145.81" width="2.7" height="2.7" fill="#111" stroke="none" stroke-width="0"/>
<rect x="457.05" y="143.58" width="2.7" height="2.7" fill="#111" stroke="none" stroke-width="0"/>
<rect x="458.95" y="142.33" width="2.7" height="2.7" fill="#111" stroke="none" stroke-width="0"/>
<rect x="460.85" y="141.75" width="2.7" height="2.7" fill="#111" stroke="none" stroke-width="0"/>
<rect x="462.75" y="141.34" width="2.7" height="2.7" fill="#111" stroke="none" stroke-width="0"/>
<rect x="464.65" y="141.07" width="2.7" height="2.7" fill="#111" stroke="none" stroke-width="0"/>
<rect x="466.55" y="140.92" width="2.7" height="2.7" fill="#111" stroke="none" stroke-width="0"/>
<rect x="468.45" y="140.77" width="2.7" height="2.7" fill="#111" stroke="none" stroke-width="0"/>
<rect x="470.35" y="140.73" width="2.7" height="2.7" fill="#111" stroke="none" stroke-width="0"/>
<rect x="472.25" y="140.7" width="2.7" height="2.7" fill="#111" stroke="none" stroke-width="0"/>
<rect x="474.15" y="140.68" width="2.7" height="2.7" fill="#111" stroke="none" stroke-width="0"/>
<rect x="476.05" y="140.65" width="2.7" height="2.7" fill="#111" stroke="none" stroke-width="0"/>
<rect x="477.95" y="140.63" width="2.7" height="2.7" fill="#111" stroke="none" stroke-width="0"/>
<rect x="479.85" y="140.61" width="2.7" height="2.7" fill="#111" stroke="none" stroke-width="0"/>
<rect x="481.75" y="140.58" width="2.7" height="2.7" fill="#111" stroke="none" stroke-width="0"/>
<rect x="483.65" y="140.56" width="2.7" height="2.7" fill="#111" stroke="none" stroke-width="0"/>
<rect x="485.55" y="140.53" width="2.7" height="2.7" fill="#111" stroke="none" stroke-width="0"/>
<rect x="487.45" y="140.51" width="2.7" height="2.7" fill="#111" stroke="none" stroke-width="0"/>
<rect x="489.35" y="140.48" width="2.7" height="2.7" fill="#111" stroke="none" stroke-width="0"/>
<rect x="491.25" y="140.46" width="2.7" height="2.7" fill="#111" stroke="none" stroke-width="0"/>
<rect x="405.5" y="291.5" width="91" height="130.5" fill="none" stroke="#1a1a1a" stroke-width="0.9"/>
<line x1="405.5" y1="357.3" x2="496.5" y2="357.3" stroke="#1a1a1a" stroke-width="0.9"/>
<line x1="414.5" y1="291.5" x2="414.5" y2="293.5" stroke="#1a1a1a" stroke-width="0.6"/>
<line x1="434.5" y1="291.5" x2="434.5" y2="293.5" stroke="#1a1a1a" stroke-width="0.6"/>
<line x1="454.7" y1="291.5" x2="454.7" y2="293.5" stroke="#1a1a1a" stroke-width="0.6"/>
<line x1="474.7" y1="291.5" x2="474.7" y2="293.5" stroke="#1a1a1a" stroke-width="0.6"/>
<text x="414.9" y="289.36" font-size="8" text-anchor="middle" fill="#2a2a2a">0</text>
<text x="454.8" y="289.36" font-size="8" text-anchor="middle" fill="#2a2a2a">50</text>
<text x="494.5" y="289.36" font-size="8" text-anchor="middle" fill="#2a2a2a">100</text>
<text x="430.44" y="271.2" font-size="8.55" text-anchor="start" fill="#2a2a2a" textLength="38.49" lengthAdjust="spacingAndGlyphs">Time (min)</text>
<line x1="403.3" y1="298.4" x2="405.5" y2="298.4" stroke="#1a1a1a" stroke-width="0.6"/>
<line x1="494.5" y1="298.4" x2="496.5" y2="298.4" stroke="#1a1a1a" stroke-width="0.6"/>
<text x="392.2" y="301.26" font-size="8" text-anchor="start" fill="#2a2a2a">0</text>
<line x1="403.3" y1="311.4" x2="405.5" y2="311.4" stroke="#1a1a1a" stroke-width="0.6"/>
<line x1="494.5" y1="311.4" x2="496.5" y2="311.4" stroke="#1a1a1a" stroke-width="0.6"/>
<text x="385" y="314.26" font-size="8" text-anchor="start" fill="#2a2a2a">-0.5</text>
<line x1="403.3" y1="324.4" x2="405.5" y2="324.4" stroke="#1a1a1a" stroke-width="0.6"/>
<line x1="494.5" y1="324.4" x2="496.5" y2="324.4" stroke="#1a1a1a" stroke-width="0.6"/>
<text x="389.6" y="327.26" font-size="8" text-anchor="start" fill="#2a2a2a">-1</text>
<line x1="403.3" y1="337.4" x2="405.5" y2="337.4" stroke="#1a1a1a" stroke-width="0.6"/>
<line x1="494.5" y1="337.4" x2="496.5" y2="337.4" stroke="#1a1a1a" stroke-width="0.6"/>
<text x="385" y="340.26" font-size="8" text-anchor="start" fill="#2a2a2a">-1.5</text>
<line x1="403.3" y1="350.4" x2="405.5" y2="350.4" stroke="#1a1a1a" stroke-width="0.6"/>
<line x1="494.5" y1="350.4" x2="496.5" y2="350.4" stroke="#1a1a1a" stroke-width="0.6"/>
<text x="389.6" y="353.26" font-size="8" text-anchor="start" fill="#2a2a2a">-2</text>
<line x1="404.3" y1="304.9" x2="405.5" y2="304.9" stroke="#1a1a1a" stroke-width="0.45"/>
<line x1="495.3" y1="304.9" x2="496.5" y2="304.9" stroke="#1a1a1a" stroke-width="0.45"/>
<line x1="404.3" y1="317.9" x2="405.5" y2="317.9" stroke="#1a1a1a" stroke-width="0.45"/>
<line x1="495.3" y1="317.9" x2="496.5" y2="317.9" stroke="#1a1a1a" stroke-width="0.45"/>
<line x1="404.3" y1="330.9" x2="405.5" y2="330.9" stroke="#1a1a1a" stroke-width="0.45"/>
<line x1="495.3" y1="330.9" x2="496.5" y2="330.9" stroke="#1a1a1a" stroke-width="0.45"/>
<line x1="404.3" y1="343.9" x2="405.5" y2="343.9" stroke="#1a1a1a" stroke-width="0.45"/>
<line x1="495.3" y1="343.9" x2="496.5" y2="343.9" stroke="#1a1a1a" stroke-width="0.45"/>
<text x="378.45" y="327.63" font-size="6.9" text-anchor="start" fill="#2a2a2a" transform="rotate(-90 378.45 327.63)" textLength="17.58" lengthAdjust="spacingAndGlyphs">μcal/s</text>
<text x="458.33" y="348.7" font-size="9.58" text-anchor="start" fill="#2a2a2a" textLength="24.99" lengthAdjust="spacingAndGlyphs">E488A</text>
<line x1="411.9" y1="298.4" x2="487.1" y2="298.4" stroke="#1a1a1a" stroke-width="0.8"/>
<path d="M414.3,298.4 L414.3,303.5 L414.9,301.97 L415.5,300.44 L416.34,298.4 Z M416.45,298.4 L416.45,340.07 L417.05,327.57 L417.65,315.07 L418.49,298.4 Z M418.6,298.4 L418.6,342.9 L419.2,329.55 L419.8,316.2 L420.64,298.4 Z M420.75,298.4 L420.75,344.27 L421.35,330.51 L421.95,316.75 L422.79,298.4 Z M422.9,298.4 L422.9,345.3 L423.5,331.23 L424.1,317.16 L424.94,298.4 Z M425.05,298.4 L425.05,347.17 L425.65,332.54 L426.25,317.91 L427.09,298.4 Z M427.2,298.4 L427.2,345.87 L427.8,331.63 L428.4,317.39 L429.24,298.4 Z M429.35,298.4 L429.35,344.4 L429.95,330.6 L430.55,316.8 L431.39,298.4 Z M431.5,298.4 L431.5,342.4 L432.1,329.2 L432.7,316 L433.54,298.4 Z M433.65,298.4 L433.65,339.95 L434.25,327.48 L434.85,315.02 L435.69,298.4 Z M435.8,298.4 L435.8,337.61 L436.4,325.85 L437,314.08 L437.84,298.4 Z M437.95,298.4 L437.95,338.43 L438.55,326.42 L439.15,314.41 L439.99,298.4 Z M440.1,298.4 L440.1,341.14 L440.7,328.32 L441.3,315.49 L442.14,298.4 Z M442.25,298.4 L442.25,340.47 L442.85,327.85 L443.45,315.23 L444.29,298.4 Z M444.4,298.4 L444.4,339.54 L445,327.2 L445.6,314.86 L446.44,298.4 Z M446.55,298.4 L446.55,336.57 L447.15,325.12 L447.75,313.67 L448.59,298.4 Z M448.7,298.4 L448.7,334.21 L449.3,323.47 L449.9,312.72 L450.74,298.4 Z M450.85,298.4 L450.85,330.47 L451.45,320.85 L452.05,311.23 L452.89,298.4 Z M453,298.4 L453,326.11 L453.6,317.8 L454.2,309.48 L455.04,298.4 Z M455.15,298.4 L455.15,322 L455.75,314.92 L456.35,307.84 L457.19,298.4 Z M457.3,298.4 L457.3,318 L457.9,312.12 L458.5,306.24 L459.34,298.4 Z M459.45,298.4 L459.45,314.82 L460.05,309.9 L460.65,304.97 L461.49,298.4 Z M461.6,298.4 L461.6,311.6 L462.2,307.64 L462.8,303.68 L463.64,298.4 Z M463.75,298.4 L463.75,308.55 L464.35,305.5 L464.95,302.46 L465.79,298.4 Z M465.9,298.4 L465.9,305.71 L466.5,303.52 L467.1,301.33 L467.94,298.4 Z M468.05,298.4 L468.05,303.39 L468.65,301.89 L469.25,300.4 L470.09,298.4 Z M470.2,298.4 L470.2,302.05 L470.8,300.95 L471.4,299.86 L472.24,298.4 Z M472.35,298.4 L472.35,301.23 L472.95,300.38 L473.55,299.53 L474.39,298.4 Z M474.5,298.4 L474.5,300.8 L475.1,300.08 L475.7,299.36 L476.54,298.4 Z M476.65,298.4 L476.65,300.47 L477.25,299.85 L477.85,299.23 L478.69,298.4 Z M478.8,298.4 L478.8,300.13 L479.4,299.61 L480,299.09 L480.84,298.4 Z M480.95,298.4 L480.95,299.83 L481.55,299.4 L482.15,298.97 L482.99,298.4 Z M483.1,298.4 L483.1,299.61 L483.7,299.25 L484.3,298.88 L485.14,298.4 Z M485.25,298.4 L485.25,299.39 L485.85,299.09 L486.45,298.8 L487.29,298.4 Z" fill="#8c8c8c" stroke="none"/>
<path d="M414.3,298.4 L414.3,303.5 M416.45,298.4 L416.45,340.07 M418.6,298.4 L418.6,342.9 M420.75,298.4 L420.75,344.27 M422.9,298.4 L422.9,345.3 M425.05,298.4 L425.05,347.17 M427.2,298.4 L427.2,345.87 M429.35,298.4 L429.35,344.4 M431.5,298.4 L431.5,342.4 M433.65,298.4 L433.65,339.95 M435.8,298.4 L435.8,337.61 M437.95,298.4 L437.95,338.43 M440.1,298.4 L440.1,341.14 M442.25,298.4 L442.25,340.47 M444.4,298.4 L444.4,339.54 M446.55,298.4 L446.55,336.57 M448.7,298.4 L448.7,334.21 M450.85,298.4 L450.85,330.47 M453,298.4 L453,326.11 M455.15,298.4 L455.15,322 M457.3,298.4 L457.3,318 M459.45,298.4 L459.45,314.82 M461.6,298.4 L461.6,311.6 M463.75,298.4 L463.75,308.55 M465.9,298.4 L465.9,305.71 M468.05,298.4 L468.05,303.39 M470.2,298.4 L470.2,302.05 M472.35,298.4 L472.35,301.23 M474.5,298.4 L474.5,300.8 M476.65,298.4 L476.65,300.47 M478.8,298.4 L478.8,300.13 M480.95,298.4 L480.95,299.83 M483.1,298.4 L483.1,299.61 M485.25,298.4 L485.25,299.39" fill="none" stroke="#151515" stroke-width="0.85"/>
<text x="392.1" y="367.32" font-size="7.6" text-anchor="start" fill="#2a2a2a">0</text>
<text x="391" y="379.52" font-size="7.6" text-anchor="start" fill="#2a2a2a">-2</text>
<text x="391" y="394.92" font-size="7.6" text-anchor="start" fill="#2a2a2a">-4</text>
<text x="391" y="410.02" font-size="7.6" text-anchor="start" fill="#2a2a2a">-6</text>
<text x="391" y="423.52" font-size="7.6" text-anchor="start" fill="#2a2a2a">-8</text>
<line x1="403.3" y1="364.6" x2="405.5" y2="364.6" stroke="#1a1a1a" stroke-width="0.6"/>
<line x1="494.5" y1="364.6" x2="496.5" y2="364.6" stroke="#1a1a1a" stroke-width="0.6"/>
<line x1="403.3" y1="379" x2="405.5" y2="379" stroke="#1a1a1a" stroke-width="0.6"/>
<line x1="494.5" y1="379" x2="496.5" y2="379" stroke="#1a1a1a" stroke-width="0.6"/>
<line x1="403.3" y1="393.4" x2="405.5" y2="393.4" stroke="#1a1a1a" stroke-width="0.6"/>
<line x1="494.5" y1="393.4" x2="496.5" y2="393.4" stroke="#1a1a1a" stroke-width="0.6"/>
<line x1="403.3" y1="407.8" x2="405.5" y2="407.8" stroke="#1a1a1a" stroke-width="0.6"/>
<line x1="494.5" y1="407.8" x2="496.5" y2="407.8" stroke="#1a1a1a" stroke-width="0.6"/>
<line x1="404.3" y1="371.8" x2="405.5" y2="371.8" stroke="#1a1a1a" stroke-width="0.45"/>
<line x1="495.3" y1="371.8" x2="496.5" y2="371.8" stroke="#1a1a1a" stroke-width="0.45"/>
<line x1="404.3" y1="386.2" x2="405.5" y2="386.2" stroke="#1a1a1a" stroke-width="0.45"/>
<line x1="495.3" y1="386.2" x2="496.5" y2="386.2" stroke="#1a1a1a" stroke-width="0.45"/>
<line x1="404.3" y1="400.6" x2="405.5" y2="400.6" stroke="#1a1a1a" stroke-width="0.45"/>
<line x1="495.3" y1="400.6" x2="496.5" y2="400.6" stroke="#1a1a1a" stroke-width="0.45"/>
<line x1="404.3" y1="415" x2="405.5" y2="415" stroke="#1a1a1a" stroke-width="0.45"/>
<line x1="495.3" y1="415" x2="496.5" y2="415" stroke="#1a1a1a" stroke-width="0.45"/>
<text x="381.1" y="419.04" font-size="6.6" text-anchor="start" fill="#2a2a2a" transform="rotate(-90 381.1 419.04)" textLength="59.49" lengthAdjust="spacingAndGlyphs">kcal/mol of injectant</text>
<line x1="414" y1="422" x2="414" y2="424" stroke="#1a1a1a" stroke-width="0.6"/>
<line x1="414" y1="357.3" x2="414" y2="359.3" stroke="#1a1a1a" stroke-width="0.6"/>
<line x1="423.2" y1="422" x2="423.2" y2="424" stroke="#1a1a1a" stroke-width="0.6"/>
<line x1="423.2" y1="357.3" x2="423.2" y2="359.3" stroke="#1a1a1a" stroke-width="0.6"/>
<line x1="432.4" y1="422" x2="432.4" y2="424" stroke="#1a1a1a" stroke-width="0.6"/>
<line x1="432.4" y1="357.3" x2="432.4" y2="359.3" stroke="#1a1a1a" stroke-width="0.6"/>
<line x1="441.6" y1="422" x2="441.6" y2="424" stroke="#1a1a1a" stroke-width="0.6"/>
<line x1="441.6" y1="357.3" x2="441.6" y2="359.3" stroke="#1a1a1a" stroke-width="0.6"/>
<line x1="450.8" y1="422" x2="450.8" y2="424" stroke="#1a1a1a" stroke-width="0.6"/>
<line x1="450.8" y1="357.3" x2="450.8" y2="359.3" stroke="#1a1a1a" stroke-width="0.6"/>
<line x1="460" y1="422" x2="460" y2="424" stroke="#1a1a1a" stroke-width="0.6"/>
<line x1="460" y1="357.3" x2="460" y2="359.3" stroke="#1a1a1a" stroke-width="0.6"/>
<line x1="469.2" y1="422" x2="469.2" y2="424" stroke="#1a1a1a" stroke-width="0.6"/>
<line x1="469.2" y1="357.3" x2="469.2" y2="359.3" stroke="#1a1a1a" stroke-width="0.6"/>
<line x1="478.4" y1="422" x2="478.4" y2="424" stroke="#1a1a1a" stroke-width="0.6"/>
<line x1="478.4" y1="357.3" x2="478.4" y2="359.3" stroke="#1a1a1a" stroke-width="0.6"/>
<line x1="487.6" y1="422" x2="487.6" y2="424" stroke="#1a1a1a" stroke-width="0.6"/>
<line x1="487.6" y1="357.3" x2="487.6" y2="359.3" stroke="#1a1a1a" stroke-width="0.6"/>
<text x="414.4" y="434.86" font-size="8" text-anchor="middle" fill="#2a2a2a">0.0</text>
<text x="432.5" y="434.86" font-size="8" text-anchor="middle" fill="#2a2a2a">0.5</text>
<text x="450.9" y="434.86" font-size="8" text-anchor="middle" fill="#2a2a2a">1.0</text>
<text x="469.3" y="434.86" font-size="8" text-anchor="middle" fill="#2a2a2a">1.5</text>
<text x="487.1" y="434.86" font-size="8" text-anchor="middle" fill="#2a2a2a">2.0</text>
<text x="418.91" y="450.8" font-size="10.07" text-anchor="start" fill="#2a2a2a" textLength="50.21" lengthAdjust="spacingAndGlyphs">Molar Ratio</text>
<polyline points="415.5,409.6 420.2,409.1 423.7,409.3 427.2,408.5 431.3,407.7 435.4,406.7 440,405.3 444.1,403.8 447.6,402.3 450.6,400.7 452.7,398.6 454.1,396.2 455.5,393.9 457,391 458.5,388 459.9,384.5 461.3,381.6 462.8,378.7 464.6,375.2 466.3,372.6 468.7,370.5 471.6,369.1 475.1,367.9 479.8,367 484.4,366.5 487.9,366.4" fill="none" stroke="#111" stroke-width="1.15" stroke-linejoin="round"/>
<rect x="415.65" y="408.09" width="2.7" height="2.7" fill="#111" stroke="none" stroke-width="0"/>
<rect x="417.55" y="407.89" width="2.7" height="2.7" fill="#111" stroke="none" stroke-width="0"/>
<rect x="419.45" y="407.78" width="2.7" height="2.7" fill="#111" stroke="none" stroke-width="0"/>
<rect x="421.35" y="407.89" width="2.7" height="2.7" fill="#111" stroke="none" stroke-width="0"/>
<rect x="423.25" y="407.74" width="2.7" height="2.7" fill="#111" stroke="none" stroke-width="0"/>
<rect x="425.15" y="407.31" width="2.7" height="2.7" fill="#111" stroke="none" stroke-width="0"/>
<rect x="427.05" y="406.92" width="2.7" height="2.7" fill="#111" stroke="none" stroke-width="0"/>
<rect x="428.95" y="406.55" width="2.7" height="2.7" fill="#111" stroke="none" stroke-width="0"/>
<rect x="430.85" y="406.13" width="2.7" height="2.7" fill="#111" stroke="none" stroke-width="0"/>
<rect x="432.75" y="405.67" width="2.7" height="2.7" fill="#111" stroke="none" stroke-width="0"/>
<rect x="434.65" y="405.17" width="2.7" height="2.7" fill="#111" stroke="none" stroke-width="0"/>
<rect x="436.55" y="404.59" width="2.7" height="2.7" fill="#111" stroke="none" stroke-width="0"/>
<rect x="438.45" y="404.01" width="2.7" height="2.7" fill="#111" stroke="none" stroke-width="0"/>
<rect x="440.35" y="403.33" width="2.7" height="2.7" fill="#111" stroke="none" stroke-width="0"/>
<rect x="442.25" y="402.63" width="2.7" height="2.7" fill="#111" stroke="none" stroke-width="0"/>
<rect x="444.15" y="401.85" width="2.7" height="2.7" fill="#111" stroke="none" stroke-width="0"/>
<rect x="446.05" y="401.04" width="2.7" height="2.7" fill="#111" stroke="none" stroke-width="0"/>
<rect x="447.95" y="400.04" width="2.7" height="2.7" fill="#111" stroke="none" stroke-width="0"/>
<rect x="449.85" y="398.75" width="2.7" height="2.7" fill="#111" stroke="none" stroke-width="0"/>
<rect x="451.75" y="396.56" width="2.7" height="2.7" fill="#111" stroke="none" stroke-width="0"/>
<rect x="453.65" y="393.37" width="2.7" height="2.7" fill="#111" stroke="none" stroke-width="0"/>
<rect x="455.55" y="389.84" width="2.7" height="2.7" fill="#111" stroke="none" stroke-width="0"/>
<rect x="457.45" y="385.9" width="2.7" height="2.7" fill="#111" stroke="none" stroke-width="0"/>
<rect x="459.35" y="381.49" width="2.7" height="2.7" fill="#111" stroke="none" stroke-width="0"/>
<rect x="461.25" y="377.74" width="2.7" height="2.7" fill="#111" stroke="none" stroke-width="0"/>
<rect x="463.15" y="374.04" width="2.7" height="2.7" fill="#111" stroke="none" stroke-width="0"/>
<rect x="465.05" y="371.16" width="2.7" height="2.7" fill="#111" stroke="none" stroke-width="0"/>
<rect x="466.95" y="369.5" width="2.7" height="2.7" fill="#111" stroke="none" stroke-width="0"/>
<rect x="468.85" y="368.43" width="2.7" height="2.7" fill="#111" stroke="none" stroke-width="0"/>
<rect x="470.75" y="367.58" width="2.7" height="2.7" fill="#111" stroke="none" stroke-width="0"/>
<rect x="472.65" y="366.93" width="2.7" height="2.7" fill="#111" stroke="none" stroke-width="0"/>
<rect x="474.55" y="366.4" width="2.7" height="2.7" fill="#111" stroke="none" stroke-width="0"/>
<rect x="476.45" y="366.03" width="2.7" height="2.7" fill="#111" stroke="none" stroke-width="0"/>
<rect x="478.35" y="365.67" width="2.7" height="2.7" fill="#111" stroke="none" stroke-width="0"/>
<rect x="480.25" y="365.45" width="2.7" height="2.7" fill="#111" stroke="none" stroke-width="0"/>
<rect x="482.15" y="365.25" width="2.7" height="2.7" fill="#111" stroke="none" stroke-width="0"/>
<rect x="484.05" y="365.12" width="2.7" height="2.7" fill="#111" stroke="none" stroke-width="0"/>
<rect x="485.95" y="365.07" width="2.7" height="2.7" fill="#111" stroke="none" stroke-width="0"/>
<line x1="575.5" y1="68.3" x2="575.5" y2="156" stroke="#1a1a1a" stroke-width="1.0"/>
<line x1="575" y1="155.5" x2="684.5" y2="155.5" stroke="#1a1a1a" stroke-width="1.0"/>
<line x1="684" y1="155.5" x2="684" y2="157.5" stroke="#1a1a1a" stroke-width="0.8"/>
<line x1="575.5" y1="155.5" x2="575.5" y2="157.3" stroke="#1a1a1a" stroke-width="0.8"/>
<line x1="573.5" y1="155.5" x2="575.5" y2="155.5" stroke="#1a1a1a" stroke-width="0.8"/>
<text x="564.4" y="158.53" font-size="7.9" text-anchor="middle" fill="#2a2a2a" textLength="14.91" lengthAdjust="spacingAndGlyphs">0.01</text>
<line x1="574.3" y1="148.94" x2="575.5" y2="148.94" stroke="#1a1a1a" stroke-width="0.45"/>
<line x1="574.3" y1="145.1" x2="575.5" y2="145.1" stroke="#1a1a1a" stroke-width="0.45"/>
<line x1="574.3" y1="142.38" x2="575.5" y2="142.38" stroke="#1a1a1a" stroke-width="0.45"/>
<line x1="574.3" y1="140.26" x2="575.5" y2="140.26" stroke="#1a1a1a" stroke-width="0.45"/>
<line x1="574.3" y1="138.54" x2="575.5" y2="138.54" stroke="#1a1a1a" stroke-width="0.45"/>
<line x1="574.3" y1="137.08" x2="575.5" y2="137.08" stroke="#1a1a1a" stroke-width="0.45"/>
<line x1="574.3" y1="135.81" x2="575.5" y2="135.81" stroke="#1a1a1a" stroke-width="0.45"/>
<line x1="574.3" y1="134.7" x2="575.5" y2="134.7" stroke="#1a1a1a" stroke-width="0.45"/>
<line x1="573.5" y1="133.7" x2="575.5" y2="133.7" stroke="#1a1a1a" stroke-width="0.8"/>
<text x="564.4" y="136.73" font-size="7.9" text-anchor="middle" fill="#2a2a2a" textLength="10.65" lengthAdjust="spacingAndGlyphs">0.1</text>
<line x1="574.3" y1="127.14" x2="575.5" y2="127.14" stroke="#1a1a1a" stroke-width="0.45"/>
<line x1="574.3" y1="123.3" x2="575.5" y2="123.3" stroke="#1a1a1a" stroke-width="0.45"/>
<line x1="574.3" y1="120.58" x2="575.5" y2="120.58" stroke="#1a1a1a" stroke-width="0.45"/>
<line x1="574.3" y1="118.46" x2="575.5" y2="118.46" stroke="#1a1a1a" stroke-width="0.45"/>
<line x1="574.3" y1="116.74" x2="575.5" y2="116.74" stroke="#1a1a1a" stroke-width="0.45"/>
<line x1="574.3" y1="115.28" x2="575.5" y2="115.28" stroke="#1a1a1a" stroke-width="0.45"/>
<line x1="574.3" y1="114.01" x2="575.5" y2="114.01" stroke="#1a1a1a" stroke-width="0.45"/>
<line x1="574.3" y1="112.9" x2="575.5" y2="112.9" stroke="#1a1a1a" stroke-width="0.45"/>
<line x1="573.5" y1="111.9" x2="575.5" y2="111.9" stroke="#1a1a1a" stroke-width="0.8"/>
<text x="564.4" y="114.93" font-size="7.9" text-anchor="middle" fill="#2a2a2a" textLength="4.26" lengthAdjust="spacingAndGlyphs">1</text>
<line x1="574.3" y1="105.34" x2="575.5" y2="105.34" stroke="#1a1a1a" stroke-width="0.45"/>
<line x1="574.3" y1="101.5" x2="575.5" y2="101.5" stroke="#1a1a1a" stroke-width="0.45"/>
<line x1="574.3" y1="98.78" x2="575.5" y2="98.78" stroke="#1a1a1a" stroke-width="0.45"/>
<line x1="574.3" y1="96.66" x2="575.5" y2="96.66" stroke="#1a1a1a" stroke-width="0.45"/>
<line x1="574.3" y1="94.94" x2="575.5" y2="94.94" stroke="#1a1a1a" stroke-width="0.45"/>
<line x1="574.3" y1="93.48" x2="575.5" y2="93.48" stroke="#1a1a1a" stroke-width="0.45"/>
<line x1="574.3" y1="92.21" x2="575.5" y2="92.21" stroke="#1a1a1a" stroke-width="0.45"/>
<line x1="574.3" y1="91.1" x2="575.5" y2="91.1" stroke="#1a1a1a" stroke-width="0.45"/>
<line x1="573.5" y1="90.1" x2="575.5" y2="90.1" stroke="#1a1a1a" stroke-width="0.8"/>
<text x="564.4" y="93.13" font-size="7.9" text-anchor="middle" fill="#2a2a2a" textLength="8.52" lengthAdjust="spacingAndGlyphs">10</text>
<line x1="574.3" y1="83.54" x2="575.5" y2="83.54" stroke="#1a1a1a" stroke-width="0.45"/>
<line x1="574.3" y1="79.7" x2="575.5" y2="79.7" stroke="#1a1a1a" stroke-width="0.45"/>
<line x1="574.3" y1="76.98" x2="575.5" y2="76.98" stroke="#1a1a1a" stroke-width="0.45"/>
<line x1="574.3" y1="74.86" x2="575.5" y2="74.86" stroke="#1a1a1a" stroke-width="0.45"/>
<line x1="574.3" y1="73.14" x2="575.5" y2="73.14" stroke="#1a1a1a" stroke-width="0.45"/>
<line x1="574.3" y1="71.68" x2="575.5" y2="71.68" stroke="#1a1a1a" stroke-width="0.45"/>
<line x1="574.3" y1="70.41" x2="575.5" y2="70.41" stroke="#1a1a1a" stroke-width="0.45"/>
<line x1="574.3" y1="69.3" x2="575.5" y2="69.3" stroke="#1a1a1a" stroke-width="0.45"/>
<line x1="573.5" y1="68.3" x2="575.5" y2="68.3" stroke="#1a1a1a" stroke-width="0.8"/>
<text x="564.4" y="71.33" font-size="7.9" text-anchor="middle" fill="#2a2a2a" textLength="12.79" lengthAdjust="spacingAndGlyphs">100</text>
<text x="552.33" y="126.91" font-size="10" text-anchor="start" fill="#2a2a2a" transform="rotate(-90 552.33 126.91)" textLength="36.23" lengthAdjust="spacingAndGlyphs">Kd (μM)</text>
<text x="591.6" y="74.72" font-size="8.29" text-anchor="start" fill="#2a2a2a" textLength="19.78" lengthAdjust="spacingAndGlyphs">cAMP</text>
<text x="646.71" y="75.22" font-size="8.03" text-anchor="start" fill="#2a2a2a" textLength="20.07" lengthAdjust="spacingAndGlyphs">cGMP</text>
<rect x="587.6" y="102.9" width="12.1" height="52.6" fill="#c3c3c3" stroke="#222" stroke-width="0.75"/>
<rect x="606.3" y="94.4" width="11.7" height="61.1" fill="#818381" stroke="#222" stroke-width="0.75"/>
<rect x="642.1" y="97.9" width="12.2" height="57.6" fill="#c3c3c3" stroke="#222" stroke-width="0.75"/>
<rect x="660.6" y="90.4" width="12" height="65.1" fill="#818381" stroke="#222" stroke-width="0.75"/>
<line x1="593.6" y1="103" x2="593.6" y2="99.6" stroke="#1a1a1a" stroke-width="0.9"/>
<line x1="590.8" y1="99.6" x2="596.4" y2="99.6" stroke="#1a1a1a" stroke-width="1.0"/>
<line x1="612.2" y1="94.4" x2="612.2" y2="88.6" stroke="#1a1a1a" stroke-width="0.9"/>
<line x1="609.4" y1="88.6" x2="615" y2="88.6" stroke="#1a1a1a" stroke-width="1.0"/>
<line x1="648.2" y1="97.9" x2="648.2" y2="93.6" stroke="#1a1a1a" stroke-width="0.9"/>
<line x1="645.4" y1="93.6" x2="651" y2="93.6" stroke="#1a1a1a" stroke-width="1.0"/>
<circle cx="592.2" cy="102" r="1.3" fill="white" stroke="#222" stroke-width="0.65"/>
<circle cx="594" cy="103.2" r="1.3" fill="white" stroke="#222" stroke-width="0.65"/>
<circle cx="595" cy="101.9" r="1.3" fill="white" stroke="#222" stroke-width="0.65"/>
<circle cx="593.2" cy="100.8" r="1.3" fill="white" stroke="#222" stroke-width="0.65"/>
<circle cx="612.6" cy="85.5" r="1.3" fill="white" stroke="#222" stroke-width="0.65"/>
<circle cx="612.6" cy="100.1" r="1.3" fill="white" stroke="#222" stroke-width="0.65"/>
<circle cx="609.8" cy="105.3" r="1.3" fill="white" stroke="#222" stroke-width="0.65"/>
<circle cx="612.4" cy="105.3" r="1.3" fill="white" stroke="#222" stroke-width="0.65"/>
<circle cx="648.5" cy="92.4" r="1.3" fill="white" stroke="#222" stroke-width="0.65"/>
<circle cx="667.6" cy="90.3" r="1.3" fill="white" stroke="#222" stroke-width="0.65"/>
<circle cx="648.4" cy="102.8" r="1" fill="#222" stroke="none" stroke-width="0"/>
<text x="596.92" y="179.44" font-size="8.45" text-anchor="start" fill="#2a2a2a" transform="rotate(-90 596.92 179.44)" textLength="20.12" lengthAdjust="spacingAndGlyphs">E488K</text>
<text x="614.92" y="179.44" font-size="8.17" text-anchor="start" fill="#2a2a2a" transform="rotate(-90 614.92 179.44)" textLength="20.26" lengthAdjust="spacingAndGlyphs">E488A</text>
<text x="652.62" y="180.45" font-size="8.17" text-anchor="start" fill="#2a2a2a" transform="rotate(-90 652.62 180.45)" textLength="20.64" lengthAdjust="spacingAndGlyphs">E488K</text>
<text x="669.22" y="180.45" font-size="7.61" text-anchor="start" fill="#2a2a2a" transform="rotate(-90 669.22 180.45)" textLength="20.57" lengthAdjust="spacingAndGlyphs">E488A</text>
<line x1="569.5" y1="222.88" x2="569.5" y2="310.6" stroke="#1a1a1a" stroke-width="1.0"/>
<line x1="567.7" y1="222.88" x2="569.5" y2="222.88" stroke="#1a1a1a" stroke-width="0.8"/>
<text x="563.9" y="225.86" font-size="7.2" text-anchor="end" fill="#2a2a2a">2</text>
<line x1="568.3" y1="230.19" x2="569.5" y2="230.19" stroke="#1a1a1a" stroke-width="0.45"/>
<line x1="567.7" y1="237.5" x2="569.5" y2="237.5" stroke="#1a1a1a" stroke-width="0.8"/>
<text x="563.9" y="240.48" font-size="7.2" text-anchor="end" fill="#2a2a2a">0</text>
<line x1="568.3" y1="244.81" x2="569.5" y2="244.81" stroke="#1a1a1a" stroke-width="0.45"/>
<line x1="567.7" y1="252.12" x2="569.5" y2="252.12" stroke="#1a1a1a" stroke-width="0.8"/>
<text x="563.9" y="255.1" font-size="7.2" text-anchor="end" fill="#2a2a2a">−2</text>
<line x1="568.3" y1="259.43" x2="569.5" y2="259.43" stroke="#1a1a1a" stroke-width="0.45"/>
<line x1="567.7" y1="266.74" x2="569.5" y2="266.74" stroke="#1a1a1a" stroke-width="0.8"/>
<text x="563.9" y="269.72" font-size="7.2" text-anchor="end" fill="#2a2a2a">−4</text>
<line x1="568.3" y1="274.05" x2="569.5" y2="274.05" stroke="#1a1a1a" stroke-width="0.45"/>
<line x1="567.7" y1="281.36" x2="569.5" y2="281.36" stroke="#1a1a1a" stroke-width="0.8"/>
<text x="563.9" y="284.34" font-size="7.2" text-anchor="end" fill="#2a2a2a">−6</text>
<line x1="568.3" y1="288.67" x2="569.5" y2="288.67" stroke="#1a1a1a" stroke-width="0.45"/>
<line x1="567.7" y1="295.98" x2="569.5" y2="295.98" stroke="#1a1a1a" stroke-width="0.8"/>
<text x="563.9" y="298.96" font-size="7.2" text-anchor="end" fill="#2a2a2a">−8</text>
<line x1="568.3" y1="303.29" x2="569.5" y2="303.29" stroke="#1a1a1a" stroke-width="0.45"/>
<line x1="567.7" y1="310.6" x2="569.5" y2="310.6" stroke="#1a1a1a" stroke-width="0.8"/>
<text x="563.9" y="313.58" font-size="7.2" text-anchor="end" fill="#2a2a2a">−10</text>
<text x="549.1" y="283.74" font-size="9.8" text-anchor="start" fill="#2a2a2a" transform="rotate(-90 549.1 283.74)" textLength="36.21" lengthAdjust="spacingAndGlyphs">kcal/mol</text>
<text x="614.51" y="210.02" font-size="7.86" text-anchor="start" fill="#2a2a2a" textLength="19.37" lengthAdjust="spacingAndGlyphs">cAMP</text>
<rect x="577.5" y="237.5" width="7.9" height="58.48" fill="#c3c3c3" stroke="#222" stroke-width="0.75"/>
<rect x="589.2" y="237.5" width="8.3" height="53.36" fill="#818381" stroke="#222" stroke-width="0.75"/>
<rect x="614" y="235.31" width="7.8" height="2.19" fill="#c3c3c3" stroke="#222" stroke-width="0.75"/>
<rect x="626.3" y="237.13" width="7.9" height="0.37" fill="#818381" stroke="#222" stroke-width="0.75"/>
<rect x="650.6" y="237.5" width="7.9" height="55.7" fill="#c3c3c3" stroke="#222" stroke-width="0.75"/>
<rect x="662.7" y="237.5" width="7.9" height="53.36" fill="#818381" stroke="#222" stroke-width="0.75"/>
<line x1="569.5" y1="237.5" x2="678.7" y2="237.5" stroke="#1a1a1a" stroke-width="1.1"/>
<line x1="593.7" y1="290.6" x2="593.7" y2="303.9" stroke="#1a1a1a" stroke-width="0.7"/>
<line x1="591.9" y1="303.9" x2="595.5" y2="303.9" stroke="#1a1a1a" stroke-width="0.7"/>
<line x1="630.1" y1="237.1" x2="630.1" y2="227.4" stroke="#1a1a1a" stroke-width="0.7"/>
<line x1="628.3" y1="227.4" x2="631.9" y2="227.4" stroke="#1a1a1a" stroke-width="0.7"/>
<line x1="617.6" y1="237.1" x2="617.6" y2="232" stroke="#1a1a1a" stroke-width="0.7"/>
<line x1="615.8" y1="232" x2="619.4" y2="232" stroke="#1a1a1a" stroke-width="0.7"/>
<line x1="666.8" y1="290.6" x2="666.8" y2="294" stroke="#1a1a1a" stroke-width="0.7"/>
<line x1="665" y1="294" x2="668.6" y2="294" stroke="#1a1a1a" stroke-width="0.7"/>
<circle cx="581" cy="292.6" r="1.3" fill="white" stroke="#222" stroke-width="0.7"/>
<circle cx="582" cy="294.6" r="1.3" fill="white" stroke="#222" stroke-width="0.7"/>
<circle cx="581.4" cy="297.4" r="1" fill="#222" stroke="none" stroke-width="0"/>
<circle cx="593.7" cy="279.8" r="1.3" fill="white" stroke="#222" stroke-width="0.7"/>
<circle cx="593.7" cy="282.8" r="1.3" fill="white" stroke="#222" stroke-width="0.7"/>
<circle cx="593.7" cy="294.4" r="1.3" fill="white" stroke="#222" stroke-width="0.7"/>
<circle cx="593.7" cy="298.9" r="1.3" fill="white" stroke="#222" stroke-width="0.7"/>
<circle cx="593.7" cy="302.5" r="1" fill="#222" stroke="none" stroke-width="0"/>
<circle cx="617.6" cy="231.6" r="1.3" fill="white" stroke="#222" stroke-width="0.7"/>
<circle cx="619" cy="235.4" r="1.3" fill="white" stroke="#222" stroke-width="0.7"/>
<circle cx="617.6" cy="239.2" r="1.3" fill="white" stroke="#222" stroke-width="0.7"/>
<circle cx="630.1" cy="227.4" r="1.3" fill="white" stroke="#222" stroke-width="0.7"/>
<circle cx="630.1" cy="243.2" r="1.3" fill="white" stroke="#222" stroke-width="0.7"/>
<circle cx="630.1" cy="245.2" r="1.3" fill="white" stroke="#222" stroke-width="0.7"/>
<circle cx="630.1" cy="250.6" r="1" fill="#222" stroke="none" stroke-width="0"/>
<circle cx="654.4" cy="293" r="1.3" fill="white" stroke="#222" stroke-width="0.7"/>
<circle cx="666.8" cy="285" r="1.3" fill="white" stroke="#222" stroke-width="0.7"/>
<circle cx="666.8" cy="288.8" r="1.3" fill="white" stroke="#222" stroke-width="0.7"/>
<circle cx="666.8" cy="292.2" r="1.3" fill="white" stroke="#222" stroke-width="0.7"/>
<text x="580.53" y="315.1" font-size="10.43" text-anchor="start" fill="#2a2a2a" textLength="12.49" lengthAdjust="spacingAndGlyphs">ΔH</text>
<text x="613.53" y="265.6" font-size="9.86" text-anchor="start" fill="#2a2a2a" textLength="18.98" lengthAdjust="spacingAndGlyphs">-TΔS</text>
<text x="653.55" y="228.8" font-size="9.86" text-anchor="start" fill="#2a2a2a" textLength="12.25" lengthAdjust="spacingAndGlyphs">ΔG</text>
<text x="584.82" y="232.63" font-size="8.17" text-anchor="start" fill="#2a2a2a" transform="rotate(-90 584.82 232.63)" textLength="20.02" lengthAdjust="spacingAndGlyphs">E488K</text>
<text x="595.82" y="233.15" font-size="8.03" text-anchor="start" fill="#2a2a2a" transform="rotate(-90 595.82 233.15)" textLength="20.46" lengthAdjust="spacingAndGlyphs">E488A</text>
<line x1="569.5" y1="344.88" x2="569.5" y2="432.6" stroke="#1a1a1a" stroke-width="1.0"/>
<line x1="567.7" y1="344.88" x2="569.5" y2="344.88" stroke="#1a1a1a" stroke-width="0.8"/>
<text x="563.9" y="347.86" font-size="7.2" text-anchor="end" fill="#2a2a2a">2</text>
<line x1="568.3" y1="352.19" x2="569.5" y2="352.19" stroke="#1a1a1a" stroke-width="0.45"/>
<line x1="567.7" y1="359.5" x2="569.5" y2="359.5" stroke="#1a1a1a" stroke-width="0.8"/>
<text x="563.9" y="362.48" font-size="7.2" text-anchor="end" fill="#2a2a2a">0</text>
<line x1="568.3" y1="366.81" x2="569.5" y2="366.81" stroke="#1a1a1a" stroke-width="0.45"/>
<line x1="567.7" y1="374.12" x2="569.5" y2="374.12" stroke="#1a1a1a" stroke-width="0.8"/>
<text x="563.9" y="377.1" font-size="7.2" text-anchor="end" fill="#2a2a2a">−2</text>
<line x1="568.3" y1="381.43" x2="569.5" y2="381.43" stroke="#1a1a1a" stroke-width="0.45"/>
<line x1="567.7" y1="388.74" x2="569.5" y2="388.74" stroke="#1a1a1a" stroke-width="0.8"/>
<text x="563.9" y="391.72" font-size="7.2" text-anchor="end" fill="#2a2a2a">−4</text>
<line x1="568.3" y1="396.05" x2="569.5" y2="396.05" stroke="#1a1a1a" stroke-width="0.45"/>
<line x1="567.7" y1="403.36" x2="569.5" y2="403.36" stroke="#1a1a1a" stroke-width="0.8"/>
<text x="563.9" y="406.34" font-size="7.2" text-anchor="end" fill="#2a2a2a">−6</text>
<line x1="568.3" y1="410.67" x2="569.5" y2="410.67" stroke="#1a1a1a" stroke-width="0.45"/>
<line x1="567.7" y1="417.98" x2="569.5" y2="417.98" stroke="#1a1a1a" stroke-width="0.8"/>
<text x="563.9" y="420.96" font-size="7.2" text-anchor="end" fill="#2a2a2a">−8</text>
<line x1="568.3" y1="425.29" x2="569.5" y2="425.29" stroke="#1a1a1a" stroke-width="0.45"/>
<line x1="567.7" y1="432.6" x2="569.5" y2="432.6" stroke="#1a1a1a" stroke-width="0.8"/>
<text x="563.9" y="435.58" font-size="7.2" text-anchor="end" fill="#2a2a2a">−10</text>
<text x="549.11" y="400.44" font-size="9.39" text-anchor="start" fill="#2a2a2a" transform="rotate(-90 549.11 400.44)" textLength="36.11" lengthAdjust="spacingAndGlyphs">kcal/mol</text>
<text x="613.51" y="330.82" font-size="8.31" text-anchor="start" fill="#2a2a2a" textLength="19.86" lengthAdjust="spacingAndGlyphs">cGMP</text>
<rect x="577.5" y="359.5" width="7.9" height="46.05" fill="#c3c3c3" stroke="#222" stroke-width="0.75"/>
<rect x="589.2" y="359.5" width="8.3" height="31.43" fill="#818381" stroke="#222" stroke-width="0.75"/>
<rect x="613.5" y="359.5" width="8.3" height="5.85" fill="#c3c3c3" stroke="#222" stroke-width="0.75"/>
<rect x="625.6" y="359.5" width="8.1" height="19.74" fill="#818381" stroke="#222" stroke-width="0.75"/>
<rect x="650.6" y="359.5" width="7.9" height="51.9" fill="#c3c3c3" stroke="#222" stroke-width="0.75"/>
<rect x="662.7" y="359.5" width="7.9" height="50.44" fill="#818381" stroke="#222" stroke-width="0.75"/>
<line x1="569.5" y1="359.5" x2="678.7" y2="359.5" stroke="#1a1a1a" stroke-width="1.1"/>
<circle cx="581.4" cy="403.6" r="1.3" fill="white" stroke="#222" stroke-width="0.7"/>
<circle cx="582.2" cy="405.5" r="1.3" fill="white" stroke="#222" stroke-width="0.7"/>
<circle cx="580.8" cy="404.5" r="1.3" fill="white" stroke="#222" stroke-width="0.7"/>
<circle cx="593.7" cy="390.4" r="1.3" fill="white" stroke="#222" stroke-width="0.7"/>
<circle cx="617.9" cy="365.6" r="1.3" fill="white" stroke="#222" stroke-width="0.7"/>
<circle cx="617" cy="367.2" r="1.3" fill="white" stroke="#222" stroke-width="0.7"/>
<circle cx="616.4" cy="368.6" r="1.3" fill="white" stroke="#222" stroke-width="0.7"/>
<circle cx="629.7" cy="378.9" r="1.3" fill="white" stroke="#222" stroke-width="0.7"/>
<circle cx="654" cy="411.2" r="1.3" fill="white" stroke="#222" stroke-width="0.7"/>
<circle cx="666.8" cy="409.3" r="1.3" fill="white" stroke="#222" stroke-width="0.7"/>
<text x="583.61" y="419.9" font-size="9.86" text-anchor="start" fill="#2a2a2a" textLength="13.25" lengthAdjust="spacingAndGlyphs">ΔH</text>
<text x="613.53" y="352" font-size="9.86" text-anchor="start" fill="#2a2a2a" textLength="18.57" lengthAdjust="spacingAndGlyphs">-TΔS</text>
<text x="653.54" y="352.2" font-size="10.14" text-anchor="start" fill="#2a2a2a" textLength="12.36" lengthAdjust="spacingAndGlyphs">ΔG</text>
<text x="584.92" y="356.35" font-size="8.45" text-anchor="start" fill="#2a2a2a" transform="rotate(-90 584.92 356.35)" textLength="20.53" lengthAdjust="spacingAndGlyphs">E488K</text>
<text x="596.12" y="356.35" font-size="8.31" text-anchor="start" fill="#2a2a2a" transform="rotate(-90 596.12 356.35)" textLength="20.46" lengthAdjust="spacingAndGlyphs">E488A</text>
</svg>
</body></html>
